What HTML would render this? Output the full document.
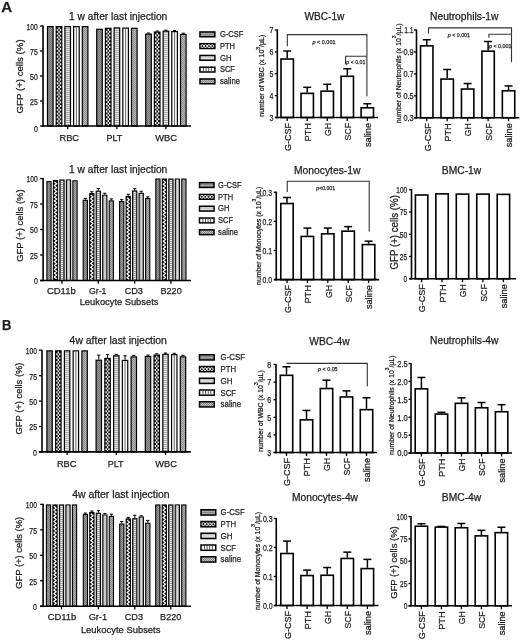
<!DOCTYPE html>
<html><head><meta charset="utf-8"><style>
html,body{margin:0;padding:0;background:#fff;}
svg{display:block;font-family:"Liberation Sans",sans-serif;will-change:transform;}
text{fill:#1e1e1e;stroke:#1e1e1e;stroke-width:0.25px;}
</style></head><body>
<svg width="520" height="641" viewBox="0 0 520 641">
<rect width="520" height="641" fill="#fff"/>
<defs>
<pattern id="pg1" width="2" height="2" patternUnits="userSpaceOnUse"><rect width="2" height="2" fill="#959595"/><rect width="1" height="1" fill="#747474"/><rect x="1" y="1" width="1" height="1" fill="#747474"/></pattern>
<pattern id="pp1" width="3" height="3" patternUnits="userSpaceOnUse"><rect width="3" height="3" fill="#111"/><rect width="1.5" height="1.5" fill="#fff"/><rect x="1.5" y="1.5" width="1.5" height="1.5" fill="#fff"/></pattern>
<pattern id="ph1" width="2" height="2" patternUnits="userSpaceOnUse"><rect width="2" height="2" fill="#e6e6e6"/><rect width="2" height="1" fill="#a8a8a8"/></pattern>
<pattern id="ps1" width="6.8" height="4" patternUnits="userSpaceOnUse"><rect width="6.8" height="4" fill="#fafafa"/></pattern>
<pattern id="pl1" width="2" height="2" patternUnits="userSpaceOnUse"><rect width="2" height="2" fill="#b8b8b8"/><rect width="1" height="1" fill="#8c8c8c"/><rect x="1" y="1" width="1" height="1" fill="#8c8c8c"/></pattern>
<pattern id="pg2" width="2" height="2" patternUnits="userSpaceOnUse"><rect width="2" height="2" fill="#9a9a9a"/><rect width="1" height="1" fill="#777"/><rect x="1" y="1" width="1" height="1" fill="#777"/></pattern>
<pattern id="pp2" width="3" height="3" patternUnits="userSpaceOnUse"><rect width="3" height="3" fill="#111"/><rect width="1.5" height="1.5" fill="#fff"/><rect x="1.5" y="1.5" width="1.5" height="1.5" fill="#fff"/></pattern>
<pattern id="ph2" width="2" height="2" patternUnits="userSpaceOnUse"><rect width="2" height="2" fill="#dcdcdc"/><rect width="2" height="1" fill="#9c9c9c"/></pattern>
<pattern id="ps2" width="2" height="2" patternUnits="userSpaceOnUse"><rect width="2" height="2" fill="#c4c4c4"/></pattern>
<pattern id="pl2" width="2" height="2" patternUnits="userSpaceOnUse"><rect width="2" height="2" fill="#b0b0b0"/><rect width="1" height="1" fill="#888"/><rect x="1" y="1" width="1" height="1" fill="#888"/></pattern>
<pattern id="lg" width="2" height="2" patternUnits="userSpaceOnUse"><rect width="2" height="2" fill="#a8a8a8"/><rect width="2" height="1" fill="#868686"/></pattern>
<pattern id="lp" width="4" height="6" patternUnits="userSpaceOnUse"><rect width="4" height="6" fill="#111"/><circle cx="2" cy="3" r="1.3" fill="none" stroke="#fff" stroke-width="0.8"/></pattern>
<pattern id="lh" width="2" height="2" patternUnits="userSpaceOnUse"><rect width="2" height="2" fill="#e8e8e8"/><rect width="2" height="1" fill="#a0a0a0"/></pattern>
<pattern id="ls" width="2.5" height="6" patternUnits="userSpaceOnUse"><rect width="2.5" height="6" fill="#fff"/><rect width="0.9" height="6" fill="#222"/></pattern>
<pattern id="ll" width="2" height="2" patternUnits="userSpaceOnUse"><rect width="2" height="2" fill="#bcbcbc"/><rect width="1" height="1" fill="#888"/><rect x="1" y="1" width="1" height="1" fill="#888"/></pattern>
</defs>
<text x="1.2" y="12" font-size="14.4" textLength="10.9" lengthAdjust="spacingAndGlyphs" font-weight="bold" >A</text>
<text x="1.9" y="329.5" font-size="13.8" textLength="9.3" lengthAdjust="spacingAndGlyphs" font-weight="bold" >B</text>
<rect x="47.5" y="26.6" width="5.6" height="99.4" fill="url(#pg1)" stroke="#000" stroke-width="1.2"/>
<rect x="56.2" y="26.6" width="5.6" height="99.4" fill="#111" stroke="#000" stroke-width="1.2"/>
<line x1="57.53" y1="27.2" x2="57.53" y2="126" stroke="#fff" stroke-width="1.39" stroke-dasharray="1.9 1.9" stroke-dashoffset="1.9"/>
<line x1="59" y1="27.2" x2="59" y2="126" stroke="#fff" stroke-width="1.39" stroke-dasharray="1.9 1.9" stroke-dashoffset="0"/>
<line x1="60.47" y1="27.2" x2="60.47" y2="126" stroke="#fff" stroke-width="1.39" stroke-dasharray="1.9 1.9" stroke-dashoffset="1.9"/>
<rect x="64.9" y="26.6" width="5.6" height="99.4" fill="url(#ph1)" stroke="#000" stroke-width="1.2"/>
<rect x="73.6" y="26.6" width="5.6" height="99.4" fill="#fbfbfb" stroke="#000" stroke-width="1.2"/>
<line x1="76.4" y1="27.2" x2="76.4" y2="126" stroke="#444" stroke-width="0.8"/>
<rect x="82.3" y="26.6" width="5.6" height="99.4" fill="url(#pl1)" stroke="#000" stroke-width="1.2"/>
<rect x="96.7" y="29.3" width="5.6" height="96.7" fill="url(#pg1)" stroke="#000" stroke-width="1.2"/>
<rect x="105.4" y="28.3" width="5.6" height="97.7" fill="#111" stroke="#000" stroke-width="1.2"/>
<line x1="106.73" y1="28.9" x2="106.73" y2="126" stroke="#fff" stroke-width="1.39" stroke-dasharray="1.9 1.9" stroke-dashoffset="1.9"/>
<line x1="108.2" y1="28.9" x2="108.2" y2="126" stroke="#fff" stroke-width="1.39" stroke-dasharray="1.9 1.9" stroke-dashoffset="0"/>
<line x1="109.67" y1="28.9" x2="109.67" y2="126" stroke="#fff" stroke-width="1.39" stroke-dasharray="1.9 1.9" stroke-dashoffset="1.9"/>
<rect x="114.1" y="27.9" width="5.6" height="98.1" fill="url(#ph1)" stroke="#000" stroke-width="1.2"/>
<rect x="122.8" y="28.1" width="5.6" height="97.9" fill="#fbfbfb" stroke="#000" stroke-width="1.2"/>
<line x1="125.6" y1="28.7" x2="125.6" y2="126" stroke="#444" stroke-width="0.8"/>
<rect x="131.5" y="28.3" width="5.6" height="97.7" fill="url(#pl1)" stroke="#000" stroke-width="1.2"/>
<line x1="148.5" y1="33" x2="148.5" y2="33.5" stroke="#000" stroke-width="1"/>
<line x1="146.9" y1="33" x2="150.1" y2="33" stroke="#000" stroke-width="1"/>
<rect x="145.7" y="34.1" width="5.6" height="91.9" fill="url(#pg1)" stroke="#000" stroke-width="1.2"/>
<line x1="157.2" y1="31" x2="157.2" y2="31.5" stroke="#000" stroke-width="1"/>
<line x1="155.6" y1="31" x2="158.8" y2="31" stroke="#000" stroke-width="1"/>
<rect x="154.4" y="32.1" width="5.6" height="93.9" fill="#111" stroke="#000" stroke-width="1.2"/>
<line x1="155.73" y1="32.7" x2="155.73" y2="126" stroke="#fff" stroke-width="1.39" stroke-dasharray="1.9 1.9" stroke-dashoffset="1.9"/>
<line x1="157.2" y1="32.7" x2="157.2" y2="126" stroke="#fff" stroke-width="1.39" stroke-dasharray="1.9 1.9" stroke-dashoffset="0"/>
<line x1="158.67" y1="32.7" x2="158.67" y2="126" stroke="#fff" stroke-width="1.39" stroke-dasharray="1.9 1.9" stroke-dashoffset="1.9"/>
<line x1="165.9" y1="30.2" x2="165.9" y2="30.6" stroke="#000" stroke-width="1"/>
<line x1="164.3" y1="30.2" x2="167.5" y2="30.2" stroke="#000" stroke-width="1"/>
<rect x="163.1" y="31.2" width="5.6" height="94.8" fill="url(#ph1)" stroke="#000" stroke-width="1.2"/>
<line x1="174.6" y1="30.5" x2="174.6" y2="31" stroke="#000" stroke-width="1"/>
<line x1="173" y1="30.5" x2="176.2" y2="30.5" stroke="#000" stroke-width="1"/>
<rect x="171.8" y="31.6" width="5.6" height="94.4" fill="#fbfbfb" stroke="#000" stroke-width="1.2"/>
<line x1="174.6" y1="32.2" x2="174.6" y2="126" stroke="#444" stroke-width="0.8"/>
<line x1="183.3" y1="33.2" x2="183.3" y2="33.8" stroke="#000" stroke-width="1"/>
<line x1="181.7" y1="33.2" x2="184.9" y2="33.2" stroke="#000" stroke-width="1"/>
<rect x="180.5" y="34.4" width="5.6" height="91.6" fill="url(#pl1)" stroke="#000" stroke-width="1.2"/>
<line x1="43" y1="25.4" x2="43" y2="126.75" stroke="#000" stroke-width="1.6"/>
<line x1="42.2" y1="126" x2="191" y2="126" stroke="#000" stroke-width="1.6"/>
<line x1="40" y1="126" x2="43" y2="126" stroke="#000" stroke-width="1.3"/>
<text x="37.8" y="132.3" font-size="8.4" text-anchor="end" textLength="3.9" lengthAdjust="spacingAndGlyphs" >0</text>
<line x1="40" y1="101" x2="43" y2="101" stroke="#000" stroke-width="1.3"/>
<text x="37.8" y="104.9" font-size="8.4" text-anchor="end" textLength="7.7" lengthAdjust="spacingAndGlyphs" >25</text>
<line x1="40" y1="76" x2="43" y2="76" stroke="#000" stroke-width="1.3"/>
<text x="37.8" y="79.9" font-size="8.4" text-anchor="end" textLength="7.7" lengthAdjust="spacingAndGlyphs" >50</text>
<line x1="40" y1="51" x2="43" y2="51" stroke="#000" stroke-width="1.3"/>
<text x="37.8" y="54.9" font-size="8.4" text-anchor="end" textLength="7.7" lengthAdjust="spacingAndGlyphs" >75</text>
<line x1="40" y1="26" x2="43" y2="26" stroke="#000" stroke-width="1.3"/>
<text x="37.8" y="29.9" font-size="8.4" text-anchor="end" textLength="11.2" lengthAdjust="spacingAndGlyphs" >100</text>
<line x1="67.7" y1="126" x2="67.7" y2="129.2" stroke="#000" stroke-width="1.3"/>
<line x1="116.9" y1="126" x2="116.9" y2="129.2" stroke="#000" stroke-width="1.3"/>
<line x1="165.9" y1="126" x2="165.9" y2="129.2" stroke="#000" stroke-width="1.3"/>
<text x="69.3" y="141" font-size="9.3" text-anchor="middle" textLength="19.5" lengthAdjust="spacingAndGlyphs" >RBC</text>
<text x="114.4" y="141" font-size="9.3" text-anchor="middle" textLength="16" lengthAdjust="spacingAndGlyphs" >PLT</text>
<text x="166.2" y="141" font-size="9.3" text-anchor="middle" textLength="21.8" lengthAdjust="spacingAndGlyphs" >WBC</text>
<text transform="translate(23,76.4) rotate(-90)" x="0" y="0" font-size="9.6" text-anchor="middle" textLength="74" lengthAdjust="spacingAndGlyphs" >GFP (+) cells (%)</text>
<text x="69.1" y="19.6" font-size="10.2" textLength="98.2" lengthAdjust="spacingAndGlyphs" >1 w after last injection</text>
<rect x="199.95" y="31.95" width="14.9" height="4.8" fill="url(#lg)" stroke="#000" stroke-width="1.5"/>
<text x="219.9" y="37.1" font-size="9.4" textLength="23.4" lengthAdjust="spacingAndGlyphs" >G-CSF</text>
<rect x="199.95" y="43.7" width="14.9" height="4.8" fill="#111" stroke="#000" stroke-width="1.5"/>
<circle cx="202.3" cy="46.1" r="1.45" fill="none" stroke="#fff" stroke-width="0.9"/>
<circle cx="205.6" cy="46.1" r="1.45" fill="none" stroke="#fff" stroke-width="0.9"/>
<circle cx="208.9" cy="46.1" r="1.45" fill="none" stroke="#fff" stroke-width="0.9"/>
<circle cx="212.2" cy="46.1" r="1.45" fill="none" stroke="#fff" stroke-width="0.9"/>
<text x="219.9" y="48.85" font-size="9.4" textLength="15" lengthAdjust="spacingAndGlyphs" >PTH</text>
<rect x="199.95" y="55.45" width="14.9" height="4.8" fill="#b4b4b4" stroke="#000" stroke-width="1.5"/>
<line x1="200.7" y1="57.15" x2="214.1" y2="57.15" stroke="#f0f0f0" stroke-width="0.8"/>
<line x1="200.7" y1="58.65" x2="214.1" y2="58.65" stroke="#f0f0f0" stroke-width="0.8"/>
<text x="219.9" y="60.6" font-size="9.4" textLength="11.6" lengthAdjust="spacingAndGlyphs" >GH</text>
<rect x="199.95" y="67.2" width="14.9" height="4.8" fill="#fff" stroke="#000" stroke-width="1.5"/>
<line x1="203.38" y1="67.95" x2="203.38" y2="71.25" stroke="#222" stroke-width="0.8"/>
<line x1="206.06" y1="67.95" x2="206.06" y2="71.25" stroke="#222" stroke-width="0.8"/>
<line x1="208.74" y1="67.95" x2="208.74" y2="71.25" stroke="#222" stroke-width="0.8"/>
<line x1="211.42" y1="67.95" x2="211.42" y2="71.25" stroke="#222" stroke-width="0.8"/>
<text x="219.9" y="72.35" font-size="9.4" textLength="15" lengthAdjust="spacingAndGlyphs" >SCF</text>
<rect x="199.95" y="78.95" width="14.9" height="4.8" fill="url(#ll)" stroke="#000" stroke-width="1.5"/>
<text x="219.9" y="84.1" font-size="9.4" textLength="20" lengthAdjust="spacingAndGlyphs" >saline</text>
<rect x="46.9" y="181.6" width="4.2" height="98.9" fill="url(#pg2)" stroke="#000" stroke-width="1.1"/>
<rect x="53.4" y="180.58" width="4.2" height="99.92" fill="#111" stroke="#000" stroke-width="1.1"/>
<polyline points="54.4 181.93 56.6 183.83 54.4 185.73 56.6 187.63 54.4 189.53 56.6 191.43 54.4 193.33 56.6 195.23 54.4 197.13 56.6 199.03 54.4 200.93 56.6 202.83 54.4 204.73 56.6 206.63 54.4 208.53 56.6 210.43 54.4 212.33 56.6 214.23 54.4 216.13 56.6 218.03 54.4 219.93 56.6 221.83 54.4 223.73 56.6 225.63 54.4 227.53 56.6 229.43 54.4 231.33 56.6 233.23 54.4 235.13 56.6 237.03 54.4 238.93 56.6 240.83 54.4 242.73 56.6 244.63 54.4 246.53 56.6 248.43 54.4 250.33 56.6 252.23 54.4 254.13 56.6 256.03 54.4 257.93 56.6 259.83 54.4 261.73 56.6 263.63 54.4 265.53 56.6 267.43 54.4 269.33 56.6 271.23 54.4 273.13 56.6 275.03 54.4 276.93 56.6 278.83" fill="none" stroke="#fff" stroke-width="1.25"/>
<rect x="59.9" y="179.97" width="4.2" height="100.53" fill="#999" stroke="#000" stroke-width="1.1"/>
<line x1="62" y1="181" x2="62" y2="280.5" stroke="#fff" stroke-width="1.8" stroke-dasharray="1 1"/>
<rect x="66.4" y="179.97" width="4.2" height="100.53" fill="#b4b4b4" stroke="#000" stroke-width="1.1"/>
<line x1="68.5" y1="180.52" x2="68.5" y2="280.5" stroke="#d8d8d8" stroke-width="1.2"/>
<rect x="72.9" y="180.78" width="4.2" height="99.72" fill="url(#pl2)" stroke="#000" stroke-width="1.1"/>
<line x1="85.3" y1="198.39" x2="85.3" y2="199.72" stroke="#000" stroke-width="1"/>
<line x1="83.7" y1="198.39" x2="86.9" y2="198.39" stroke="#000" stroke-width="1"/>
<rect x="83.2" y="200.27" width="4.2" height="80.23" fill="url(#pg2)" stroke="#000" stroke-width="1.1"/>
<line x1="91.8" y1="191.76" x2="91.8" y2="193.09" stroke="#000" stroke-width="1"/>
<line x1="90.2" y1="191.76" x2="93.4" y2="191.76" stroke="#000" stroke-width="1"/>
<rect x="89.7" y="193.64" width="4.2" height="86.86" fill="#111" stroke="#000" stroke-width="1.1"/>
<polyline points="90.7 194.99 92.9 196.89 90.7 198.79 92.9 200.69 90.7 202.59 92.9 204.49 90.7 206.39 92.9 208.29 90.7 210.19 92.9 212.09 90.7 213.99 92.9 215.89 90.7 217.79 92.9 219.69 90.7 221.59 92.9 223.49 90.7 225.39 92.9 227.29 90.7 229.19 92.9 231.09 90.7 232.99 92.9 234.89 90.7 236.79 92.9 238.69 90.7 240.59 92.9 242.49 90.7 244.39 92.9 246.29 90.7 248.19 92.9 250.09 90.7 251.99 92.9 253.89 90.7 255.79 92.9 257.69 90.7 259.59 92.9 261.49 90.7 263.39 92.9 265.29 90.7 267.19 92.9 269.09 90.7 270.99 92.9 272.89 90.7 274.79 92.9 276.69 90.7 278.59 92.9 280.49" fill="none" stroke="#fff" stroke-width="1.25"/>
<line x1="98.3" y1="188.5" x2="98.3" y2="190.64" stroke="#000" stroke-width="1"/>
<line x1="96.7" y1="188.5" x2="99.9" y2="188.5" stroke="#000" stroke-width="1"/>
<rect x="96.2" y="191.19" width="4.2" height="89.31" fill="#999" stroke="#000" stroke-width="1.1"/>
<line x1="98.3" y1="192" x2="98.3" y2="280.5" stroke="#fff" stroke-width="1.8" stroke-dasharray="1 1"/>
<line x1="104.8" y1="193.29" x2="104.8" y2="194.72" stroke="#000" stroke-width="1"/>
<line x1="103.2" y1="193.29" x2="106.4" y2="193.29" stroke="#000" stroke-width="1"/>
<rect x="102.7" y="195.27" width="4.2" height="85.23" fill="#b4b4b4" stroke="#000" stroke-width="1.1"/>
<line x1="104.8" y1="195.82" x2="104.8" y2="280.5" stroke="#d8d8d8" stroke-width="1.2"/>
<line x1="111.3" y1="198.9" x2="111.3" y2="200.33" stroke="#000" stroke-width="1"/>
<line x1="109.7" y1="198.9" x2="112.9" y2="198.9" stroke="#000" stroke-width="1"/>
<rect x="109.2" y="200.88" width="4.2" height="79.62" fill="url(#pl2)" stroke="#000" stroke-width="1.1"/>
<line x1="121.7" y1="199.61" x2="121.7" y2="201.04" stroke="#000" stroke-width="1"/>
<line x1="120.1" y1="199.61" x2="123.3" y2="199.61" stroke="#000" stroke-width="1"/>
<rect x="119.6" y="201.59" width="4.2" height="78.91" fill="url(#pg2)" stroke="#000" stroke-width="1.1"/>
<line x1="128.2" y1="194.31" x2="128.2" y2="195.94" stroke="#000" stroke-width="1"/>
<line x1="126.6" y1="194.31" x2="129.8" y2="194.31" stroke="#000" stroke-width="1"/>
<rect x="126.1" y="196.49" width="4.2" height="84.01" fill="#111" stroke="#000" stroke-width="1.1"/>
<polyline points="127.1 197.84 129.3 199.74 127.1 201.64 129.3 203.54 127.1 205.44 129.3 207.34 127.1 209.24 129.3 211.14 127.1 213.04 129.3 214.94 127.1 216.84 129.3 218.74 127.1 220.64 129.3 222.54 127.1 224.44 129.3 226.34 127.1 228.24 129.3 230.14 127.1 232.04 129.3 233.94 127.1 235.84 129.3 237.74 127.1 239.64 129.3 241.54 127.1 243.44 129.3 245.34 127.1 247.24 129.3 249.14 127.1 251.04 129.3 252.94 127.1 254.84 129.3 256.74 127.1 258.64 129.3 260.54 127.1 262.44 129.3 264.34 127.1 266.24 129.3 268.14 127.1 270.04 129.3 271.94 127.1 273.84 129.3 275.74 127.1 277.64 129.3 279.54" fill="none" stroke="#fff" stroke-width="1.25"/>
<line x1="134.7" y1="188.7" x2="134.7" y2="190.43" stroke="#000" stroke-width="1"/>
<line x1="133.1" y1="188.7" x2="136.3" y2="188.7" stroke="#000" stroke-width="1"/>
<rect x="132.6" y="190.98" width="4.2" height="89.52" fill="#999" stroke="#000" stroke-width="1.1"/>
<line x1="134.7" y1="192" x2="134.7" y2="280.5" stroke="#fff" stroke-width="1.8" stroke-dasharray="1 1"/>
<line x1="141.2" y1="191.25" x2="141.2" y2="192.78" stroke="#000" stroke-width="1"/>
<line x1="139.6" y1="191.25" x2="142.8" y2="191.25" stroke="#000" stroke-width="1"/>
<rect x="139.1" y="193.33" width="4.2" height="87.17" fill="#b4b4b4" stroke="#000" stroke-width="1.1"/>
<line x1="141.2" y1="193.88" x2="141.2" y2="280.5" stroke="#d8d8d8" stroke-width="1.2"/>
<line x1="147.7" y1="196.86" x2="147.7" y2="197.98" stroke="#000" stroke-width="1"/>
<line x1="146.1" y1="196.86" x2="149.3" y2="196.86" stroke="#000" stroke-width="1"/>
<rect x="145.6" y="198.53" width="4.2" height="81.97" fill="url(#pl2)" stroke="#000" stroke-width="1.1"/>
<rect x="155.8" y="179.05" width="4.2" height="101.45" fill="url(#pg2)" stroke="#000" stroke-width="1.1"/>
<rect x="162.3" y="179.05" width="4.2" height="101.45" fill="#111" stroke="#000" stroke-width="1.1"/>
<polyline points="163.3 180.4 165.5 182.3 163.3 184.2 165.5 186.1 163.3 188 165.5 189.9 163.3 191.8 165.5 193.7 163.3 195.6 165.5 197.5 163.3 199.4 165.5 201.3 163.3 203.2 165.5 205.1 163.3 207 165.5 208.9 163.3 210.8 165.5 212.7 163.3 214.6 165.5 216.5 163.3 218.4 165.5 220.3 163.3 222.2 165.5 224.1 163.3 226 165.5 227.9 163.3 229.8 165.5 231.7 163.3 233.6 165.5 235.5 163.3 237.4 165.5 239.3 163.3 241.2 165.5 243.1 163.3 245 165.5 246.9 163.3 248.8 165.5 250.7 163.3 252.6 165.5 254.5 163.3 256.4 165.5 258.3 163.3 260.2 165.5 262.1 163.3 264 165.5 265.9 163.3 267.8 165.5 269.7 163.3 271.6 165.5 273.5 163.3 275.4 165.5 277.3 163.3 279.2" fill="none" stroke="#fff" stroke-width="1.25"/>
<rect x="168.8" y="179.05" width="4.2" height="101.45" fill="#999" stroke="#000" stroke-width="1.1"/>
<line x1="170.9" y1="180" x2="170.9" y2="280.5" stroke="#fff" stroke-width="1.8" stroke-dasharray="1 1"/>
<rect x="175.3" y="179.05" width="4.2" height="101.45" fill="#b4b4b4" stroke="#000" stroke-width="1.1"/>
<line x1="177.4" y1="179.6" x2="177.4" y2="280.5" stroke="#d8d8d8" stroke-width="1.2"/>
<rect x="181.8" y="179.05" width="4.2" height="101.45" fill="url(#pl2)" stroke="#000" stroke-width="1.1"/>
<line x1="43.1" y1="177.9" x2="43.1" y2="281.25" stroke="#000" stroke-width="1.6"/>
<line x1="40" y1="280.5" x2="191" y2="280.5" stroke="#000" stroke-width="1.6"/>
<line x1="40.1" y1="280.5" x2="43.1" y2="280.5" stroke="#000" stroke-width="1.3"/>
<text x="37.8" y="284.4" font-size="8.4" text-anchor="end" textLength="3.9" lengthAdjust="spacingAndGlyphs" >0</text>
<line x1="40.1" y1="255" x2="43.1" y2="255" stroke="#000" stroke-width="1.3"/>
<text x="37.8" y="258.9" font-size="8.4" text-anchor="end" textLength="7.7" lengthAdjust="spacingAndGlyphs" >25</text>
<line x1="40.1" y1="229.5" x2="43.1" y2="229.5" stroke="#000" stroke-width="1.3"/>
<text x="37.8" y="233.4" font-size="8.4" text-anchor="end" textLength="7.7" lengthAdjust="spacingAndGlyphs" >50</text>
<line x1="40.1" y1="204" x2="43.1" y2="204" stroke="#000" stroke-width="1.3"/>
<text x="37.8" y="207.9" font-size="8.4" text-anchor="end" textLength="7.7" lengthAdjust="spacingAndGlyphs" >75</text>
<line x1="40.1" y1="178.5" x2="43.1" y2="178.5" stroke="#000" stroke-width="1.3"/>
<text x="37.8" y="182.4" font-size="8.4" text-anchor="end" textLength="11.2" lengthAdjust="spacingAndGlyphs" >100</text>
<line x1="62" y1="280.5" x2="62" y2="283.7" stroke="#000" stroke-width="1.3"/>
<line x1="98.3" y1="280.5" x2="98.3" y2="283.7" stroke="#000" stroke-width="1.3"/>
<line x1="134.7" y1="280.5" x2="134.7" y2="283.7" stroke="#000" stroke-width="1.3"/>
<line x1="170.9" y1="280.5" x2="170.9" y2="283.7" stroke="#000" stroke-width="1.3"/>
<text x="61.3" y="294.3" font-size="9.3" text-anchor="middle" textLength="28.8" lengthAdjust="spacingAndGlyphs" >CD11b</text>
<text x="97.7" y="294.3" font-size="9.3" text-anchor="middle" textLength="17.6" lengthAdjust="spacingAndGlyphs" >Gr-1</text>
<text x="133.8" y="294.3" font-size="9.3" text-anchor="middle" textLength="18.2" lengthAdjust="spacingAndGlyphs" >CD3</text>
<text x="171.1" y="294.3" font-size="9.3" text-anchor="middle" textLength="21.3" lengthAdjust="spacingAndGlyphs" >B220</text>
<text transform="translate(23.3,225.6) rotate(-90)" x="0" y="0" font-size="9.6" text-anchor="middle" textLength="72.5" lengthAdjust="spacingAndGlyphs" >GFP (+) cells (%)</text>
<text x="69.1" y="173.2" font-size="10.2" textLength="98.2" lengthAdjust="spacingAndGlyphs" >1 w after last injection</text>
<rect x="199.5" y="182.65" width="14.5" height="4.8" fill="url(#lg)" stroke="#000" stroke-width="1.5"/>
<text x="218.1" y="187.8" font-size="9.4" textLength="23.4" lengthAdjust="spacingAndGlyphs" >G-CSF</text>
<rect x="199.5" y="194.45" width="14.5" height="4.8" fill="#111" stroke="#000" stroke-width="1.5"/>
<circle cx="201.85" cy="196.85" r="1.45" fill="none" stroke="#fff" stroke-width="0.9"/>
<circle cx="205.15" cy="196.85" r="1.45" fill="none" stroke="#fff" stroke-width="0.9"/>
<circle cx="208.45" cy="196.85" r="1.45" fill="none" stroke="#fff" stroke-width="0.9"/>
<circle cx="211.75" cy="196.85" r="1.45" fill="none" stroke="#fff" stroke-width="0.9"/>
<text x="218.1" y="199.6" font-size="9.4" textLength="15" lengthAdjust="spacingAndGlyphs" >PTH</text>
<rect x="199.5" y="206.25" width="14.5" height="4.8" fill="#b4b4b4" stroke="#000" stroke-width="1.5"/>
<line x1="200.25" y1="207.95" x2="213.25" y2="207.95" stroke="#f0f0f0" stroke-width="0.8"/>
<line x1="200.25" y1="209.45" x2="213.25" y2="209.45" stroke="#f0f0f0" stroke-width="0.8"/>
<text x="218.1" y="211.4" font-size="9.4" textLength="11.6" lengthAdjust="spacingAndGlyphs" >GH</text>
<rect x="199.5" y="218.05" width="14.5" height="4.8" fill="#fff" stroke="#000" stroke-width="1.5"/>
<line x1="202.85" y1="218.8" x2="202.85" y2="222.1" stroke="#222" stroke-width="0.8"/>
<line x1="205.45" y1="218.8" x2="205.45" y2="222.1" stroke="#222" stroke-width="0.8"/>
<line x1="208.05" y1="218.8" x2="208.05" y2="222.1" stroke="#222" stroke-width="0.8"/>
<line x1="210.65" y1="218.8" x2="210.65" y2="222.1" stroke="#222" stroke-width="0.8"/>
<text x="218.1" y="223.2" font-size="9.4" textLength="15" lengthAdjust="spacingAndGlyphs" >SCF</text>
<rect x="199.5" y="229.85" width="14.5" height="4.8" fill="url(#ll)" stroke="#000" stroke-width="1.5"/>
<text x="218.1" y="235" font-size="9.4" textLength="20" lengthAdjust="spacingAndGlyphs" >saline</text>
<text x="79.7" y="305.4" font-size="9.3" textLength="78.7" lengthAdjust="spacingAndGlyphs" >Leukocyte Subsets</text>
<rect x="46.9" y="350.85" width="5.4" height="101.05" fill="url(#pg1)" stroke="#000" stroke-width="1.2"/>
<rect x="55.65" y="350.85" width="5.4" height="101.05" fill="#111" stroke="#000" stroke-width="1.2"/>
<line x1="56.95" y1="351.45" x2="56.95" y2="451.9" stroke="#fff" stroke-width="1.33" stroke-dasharray="1.9 1.9" stroke-dashoffset="1.9"/>
<line x1="58.35" y1="351.45" x2="58.35" y2="451.9" stroke="#fff" stroke-width="1.33" stroke-dasharray="1.9 1.9" stroke-dashoffset="0"/>
<line x1="59.75" y1="351.45" x2="59.75" y2="451.9" stroke="#fff" stroke-width="1.33" stroke-dasharray="1.9 1.9" stroke-dashoffset="1.9"/>
<rect x="64.4" y="350.85" width="5.4" height="101.05" fill="url(#ph1)" stroke="#000" stroke-width="1.2"/>
<rect x="73.15" y="350.85" width="5.4" height="101.05" fill="#fbfbfb" stroke="#000" stroke-width="1.2"/>
<line x1="75.85" y1="351.45" x2="75.85" y2="451.9" stroke="#444" stroke-width="0.8"/>
<rect x="81.9" y="350.85" width="5.4" height="101.05" fill="url(#pl1)" stroke="#000" stroke-width="1.2"/>
<line x1="98.8" y1="355.13" x2="98.8" y2="359.6" stroke="#000" stroke-width="1"/>
<line x1="97.2" y1="355.13" x2="100.4" y2="355.13" stroke="#000" stroke-width="1"/>
<rect x="96.1" y="360.2" width="5.4" height="91.7" fill="url(#pg1)" stroke="#000" stroke-width="1.2"/>
<line x1="107.55" y1="354.62" x2="107.55" y2="357.77" stroke="#000" stroke-width="1"/>
<line x1="105.95" y1="354.62" x2="109.15" y2="354.62" stroke="#000" stroke-width="1"/>
<rect x="104.85" y="358.37" width="5.4" height="93.53" fill="#111" stroke="#000" stroke-width="1.2"/>
<line x1="106.15" y1="358.97" x2="106.15" y2="451.9" stroke="#fff" stroke-width="1.33" stroke-dasharray="1.9 1.9" stroke-dashoffset="1.9"/>
<line x1="107.55" y1="358.97" x2="107.55" y2="451.9" stroke="#fff" stroke-width="1.33" stroke-dasharray="1.9 1.9" stroke-dashoffset="0"/>
<line x1="108.95" y1="358.97" x2="108.95" y2="451.9" stroke="#fff" stroke-width="1.33" stroke-dasharray="1.9 1.9" stroke-dashoffset="1.9"/>
<line x1="116.3" y1="354.32" x2="116.3" y2="355.23" stroke="#000" stroke-width="1"/>
<line x1="114.7" y1="354.32" x2="117.9" y2="354.32" stroke="#000" stroke-width="1"/>
<rect x="113.6" y="355.83" width="5.4" height="96.07" fill="url(#ph1)" stroke="#000" stroke-width="1.2"/>
<line x1="125.05" y1="355.84" x2="125.05" y2="359.81" stroke="#000" stroke-width="1"/>
<line x1="123.45" y1="355.84" x2="126.65" y2="355.84" stroke="#000" stroke-width="1"/>
<rect x="122.35" y="360.41" width="5.4" height="91.49" fill="#fbfbfb" stroke="#000" stroke-width="1.2"/>
<line x1="125.05" y1="361.01" x2="125.05" y2="451.9" stroke="#444" stroke-width="0.8"/>
<line x1="133.8" y1="355.33" x2="133.8" y2="356.25" stroke="#000" stroke-width="1"/>
<line x1="132.2" y1="355.33" x2="135.4" y2="355.33" stroke="#000" stroke-width="1"/>
<rect x="131.1" y="356.85" width="5.4" height="95.05" fill="url(#pl1)" stroke="#000" stroke-width="1.2"/>
<line x1="148" y1="355.03" x2="148" y2="355.84" stroke="#000" stroke-width="1"/>
<line x1="146.4" y1="355.03" x2="149.6" y2="355.03" stroke="#000" stroke-width="1"/>
<rect x="145.3" y="356.44" width="5.4" height="95.46" fill="url(#pg1)" stroke="#000" stroke-width="1.2"/>
<line x1="156.75" y1="353.81" x2="156.75" y2="354.52" stroke="#000" stroke-width="1"/>
<line x1="155.15" y1="353.81" x2="158.35" y2="353.81" stroke="#000" stroke-width="1"/>
<rect x="154.05" y="355.12" width="5.4" height="96.78" fill="#111" stroke="#000" stroke-width="1.2"/>
<line x1="155.35" y1="355.72" x2="155.35" y2="451.9" stroke="#fff" stroke-width="1.33" stroke-dasharray="1.9 1.9" stroke-dashoffset="1.9"/>
<line x1="156.75" y1="355.72" x2="156.75" y2="451.9" stroke="#fff" stroke-width="1.33" stroke-dasharray="1.9 1.9" stroke-dashoffset="0"/>
<line x1="158.15" y1="355.72" x2="158.15" y2="451.9" stroke="#fff" stroke-width="1.33" stroke-dasharray="1.9 1.9" stroke-dashoffset="1.9"/>
<line x1="165.5" y1="352.99" x2="165.5" y2="353.71" stroke="#000" stroke-width="1"/>
<line x1="163.9" y1="352.99" x2="167.1" y2="352.99" stroke="#000" stroke-width="1"/>
<rect x="162.8" y="354.31" width="5.4" height="97.59" fill="url(#ph1)" stroke="#000" stroke-width="1.2"/>
<line x1="174.25" y1="353.3" x2="174.25" y2="354.11" stroke="#000" stroke-width="1"/>
<line x1="172.65" y1="353.3" x2="175.85" y2="353.3" stroke="#000" stroke-width="1"/>
<rect x="171.55" y="354.71" width="5.4" height="97.19" fill="#fbfbfb" stroke="#000" stroke-width="1.2"/>
<line x1="174.25" y1="355.31" x2="174.25" y2="451.9" stroke="#444" stroke-width="0.8"/>
<line x1="183" y1="355.33" x2="183" y2="356.25" stroke="#000" stroke-width="1"/>
<line x1="181.4" y1="355.33" x2="184.6" y2="355.33" stroke="#000" stroke-width="1"/>
<rect x="180.3" y="356.85" width="5.4" height="95.05" fill="url(#pl1)" stroke="#000" stroke-width="1.2"/>
<line x1="42" y1="349.65" x2="42" y2="452.65" stroke="#000" stroke-width="1.6"/>
<line x1="38.75" y1="451.9" x2="190.8" y2="451.9" stroke="#000" stroke-width="1.6"/>
<line x1="39" y1="451.9" x2="42" y2="451.9" stroke="#000" stroke-width="1.3"/>
<text x="37" y="455.8" font-size="8.4" text-anchor="end" textLength="3.9" lengthAdjust="spacingAndGlyphs" >0</text>
<line x1="39" y1="426.49" x2="42" y2="426.49" stroke="#000" stroke-width="1.3"/>
<text x="37" y="430.39" font-size="8.4" text-anchor="end" textLength="7.7" lengthAdjust="spacingAndGlyphs" >25</text>
<line x1="39" y1="401.07" x2="42" y2="401.07" stroke="#000" stroke-width="1.3"/>
<text x="37" y="404.97" font-size="8.4" text-anchor="end" textLength="7.7" lengthAdjust="spacingAndGlyphs" >50</text>
<line x1="39" y1="375.66" x2="42" y2="375.66" stroke="#000" stroke-width="1.3"/>
<text x="37" y="379.56" font-size="8.4" text-anchor="end" textLength="7.7" lengthAdjust="spacingAndGlyphs" >75</text>
<line x1="39" y1="350.25" x2="42" y2="350.25" stroke="#000" stroke-width="1.3"/>
<text x="37" y="354.15" font-size="8.4" text-anchor="end" textLength="11.2" lengthAdjust="spacingAndGlyphs" >100</text>
<line x1="67.1" y1="451.9" x2="67.1" y2="455.1" stroke="#000" stroke-width="1.3"/>
<line x1="116.3" y1="451.9" x2="116.3" y2="455.1" stroke="#000" stroke-width="1.3"/>
<line x1="165.5" y1="451.9" x2="165.5" y2="455.1" stroke="#000" stroke-width="1.3"/>
<text x="66.6" y="467" font-size="9.3" text-anchor="middle" textLength="19.4" lengthAdjust="spacingAndGlyphs" >RBC</text>
<text x="115.7" y="467" font-size="9.3" text-anchor="middle" textLength="16" lengthAdjust="spacingAndGlyphs" >PLT</text>
<text x="166.1" y="467" font-size="9.3" text-anchor="middle" textLength="21.5" lengthAdjust="spacingAndGlyphs" >WBC</text>
<text transform="translate(22,398.5) rotate(-90)" x="0" y="0" font-size="9.6" text-anchor="middle" textLength="72" lengthAdjust="spacingAndGlyphs" >GFP (+) cells (%)</text>
<text x="69.6" y="343.75" font-size="10.2" textLength="97.3" lengthAdjust="spacingAndGlyphs" >4w after last injection</text>
<rect x="199.5" y="354.75" width="14.75" height="5.2" fill="url(#lg)" stroke="#000" stroke-width="1.5"/>
<text x="220.6" y="360.3" font-size="9.4" textLength="24.4" lengthAdjust="spacingAndGlyphs" >G-CSF</text>
<rect x="199.5" y="366.5" width="14.75" height="5.2" fill="#111" stroke="#000" stroke-width="1.5"/>
<circle cx="201.85" cy="369.1" r="1.45" fill="none" stroke="#fff" stroke-width="0.9"/>
<circle cx="205.15" cy="369.1" r="1.45" fill="none" stroke="#fff" stroke-width="0.9"/>
<circle cx="208.45" cy="369.1" r="1.45" fill="none" stroke="#fff" stroke-width="0.9"/>
<circle cx="211.75" cy="369.1" r="1.45" fill="none" stroke="#fff" stroke-width="0.9"/>
<text x="220.6" y="372.05" font-size="9.4" textLength="15.5" lengthAdjust="spacingAndGlyphs" >PTH</text>
<rect x="199.5" y="378.25" width="14.75" height="5.2" fill="#b4b4b4" stroke="#000" stroke-width="1.5"/>
<line x1="200.25" y1="380.15" x2="213.5" y2="380.15" stroke="#f0f0f0" stroke-width="0.8"/>
<line x1="200.25" y1="381.65" x2="213.5" y2="381.65" stroke="#f0f0f0" stroke-width="0.8"/>
<text x="220.6" y="383.8" font-size="9.4" textLength="12" lengthAdjust="spacingAndGlyphs" >GH</text>
<rect x="199.5" y="390" width="14.75" height="5.2" fill="#fff" stroke="#000" stroke-width="1.5"/>
<line x1="202.9" y1="390.75" x2="202.9" y2="394.45" stroke="#222" stroke-width="0.8"/>
<line x1="205.55" y1="390.75" x2="205.55" y2="394.45" stroke="#222" stroke-width="0.8"/>
<line x1="208.2" y1="390.75" x2="208.2" y2="394.45" stroke="#222" stroke-width="0.8"/>
<line x1="210.85" y1="390.75" x2="210.85" y2="394.45" stroke="#222" stroke-width="0.8"/>
<text x="220.6" y="395.55" font-size="9.4" textLength="15.5" lengthAdjust="spacingAndGlyphs" >SCF</text>
<rect x="199.5" y="401.75" width="14.75" height="5.2" fill="url(#ll)" stroke="#000" stroke-width="1.5"/>
<text x="220.6" y="407.3" font-size="9.4" textLength="20.5" lengthAdjust="spacingAndGlyphs" >saline</text>
<rect x="46.4" y="504.95" width="4.2" height="101.25" fill="url(#pg2)" stroke="#000" stroke-width="1.1"/>
<rect x="52.9" y="504.95" width="4.2" height="101.25" fill="#111" stroke="#000" stroke-width="1.1"/>
<polyline points="53.9 506.3 56.1 508.2 53.9 510.1 56.1 512 53.9 513.9 56.1 515.8 53.9 517.7 56.1 519.6 53.9 521.5 56.1 523.4 53.9 525.3 56.1 527.2 53.9 529.1 56.1 531 53.9 532.9 56.1 534.8 53.9 536.7 56.1 538.6 53.9 540.5 56.1 542.4 53.9 544.3 56.1 546.2 53.9 548.1 56.1 550 53.9 551.9 56.1 553.8 53.9 555.7 56.1 557.6 53.9 559.5 56.1 561.4 53.9 563.3 56.1 565.2 53.9 567.1 56.1 569 53.9 570.9 56.1 572.8 53.9 574.7 56.1 576.6 53.9 578.5 56.1 580.4 53.9 582.3 56.1 584.2 53.9 586.1 56.1 588 53.9 589.9 56.1 591.8 53.9 593.7 56.1 595.6 53.9 597.5 56.1 599.4 53.9 601.3 56.1 603.2 53.9 605.1" fill="none" stroke="#fff" stroke-width="1.25"/>
<rect x="59.4" y="504.95" width="4.2" height="101.25" fill="#999" stroke="#000" stroke-width="1.1"/>
<line x1="61.5" y1="506" x2="61.5" y2="606.2" stroke="#fff" stroke-width="1.8" stroke-dasharray="1 1"/>
<rect x="65.9" y="504.95" width="4.2" height="101.25" fill="#b4b4b4" stroke="#000" stroke-width="1.1"/>
<line x1="68" y1="505.5" x2="68" y2="606.2" stroke="#d8d8d8" stroke-width="1.2"/>
<rect x="72.4" y="504.95" width="4.2" height="101.25" fill="url(#pl2)" stroke="#000" stroke-width="1.1"/>
<line x1="85.4" y1="513.05" x2="85.4" y2="513.87" stroke="#000" stroke-width="1"/>
<line x1="83.8" y1="513.05" x2="87" y2="513.05" stroke="#000" stroke-width="1"/>
<rect x="83.3" y="514.42" width="4.2" height="91.78" fill="url(#pg2)" stroke="#000" stroke-width="1.1"/>
<line x1="91.9" y1="511.02" x2="91.9" y2="511.93" stroke="#000" stroke-width="1"/>
<line x1="90.3" y1="511.02" x2="93.5" y2="511.02" stroke="#000" stroke-width="1"/>
<rect x="89.8" y="512.48" width="4.2" height="93.72" fill="#111" stroke="#000" stroke-width="1.1"/>
<polyline points="90.8 513.83 93 515.73 90.8 517.63 93 519.53 90.8 521.43 93 523.33 90.8 525.23 93 527.13 90.8 529.03 93 530.93 90.8 532.83 93 534.73 90.8 536.63 93 538.53 90.8 540.43 93 542.33 90.8 544.23 93 546.13 90.8 548.03 93 549.93 90.8 551.83 93 553.73 90.8 555.63 93 557.53 90.8 559.43 93 561.33 90.8 563.23 93 565.13 90.8 567.03 93 568.93 90.8 570.83 93 572.73 90.8 574.63 93 576.53 90.8 578.43 93 580.33 90.8 582.23 93 584.13 90.8 586.03 93 587.93 90.8 589.83 93 591.73 90.8 593.63 93 595.53 90.8 597.43 93 599.33 90.8 601.23 93 603.13 90.8 605.03" fill="none" stroke="#fff" stroke-width="1.25"/>
<line x1="98.4" y1="510.71" x2="98.4" y2="512.75" stroke="#000" stroke-width="1"/>
<line x1="96.8" y1="510.71" x2="100" y2="510.71" stroke="#000" stroke-width="1"/>
<rect x="96.3" y="513.3" width="4.2" height="92.9" fill="#999" stroke="#000" stroke-width="1.1"/>
<line x1="98.4" y1="514" x2="98.4" y2="606.2" stroke="#fff" stroke-width="1.8" stroke-dasharray="1 1"/>
<line x1="104.9" y1="513.56" x2="104.9" y2="514.48" stroke="#000" stroke-width="1"/>
<line x1="103.3" y1="513.56" x2="106.5" y2="513.56" stroke="#000" stroke-width="1"/>
<rect x="102.8" y="515.03" width="4.2" height="91.17" fill="#b4b4b4" stroke="#000" stroke-width="1.1"/>
<line x1="104.9" y1="515.58" x2="104.9" y2="606.2" stroke="#d8d8d8" stroke-width="1.2"/>
<line x1="111.4" y1="514.17" x2="111.4" y2="515.8" stroke="#000" stroke-width="1"/>
<line x1="109.8" y1="514.17" x2="113" y2="514.17" stroke="#000" stroke-width="1"/>
<rect x="109.3" y="516.35" width="4.2" height="89.85" fill="url(#pl2)" stroke="#000" stroke-width="1.1"/>
<line x1="121.8" y1="521.5" x2="121.8" y2="523.54" stroke="#000" stroke-width="1"/>
<line x1="120.2" y1="521.5" x2="123.4" y2="521.5" stroke="#000" stroke-width="1"/>
<rect x="119.7" y="524.09" width="4.2" height="82.11" fill="url(#pg2)" stroke="#000" stroke-width="1.1"/>
<line x1="128.3" y1="517.33" x2="128.3" y2="518.35" stroke="#000" stroke-width="1"/>
<line x1="126.7" y1="517.33" x2="129.9" y2="517.33" stroke="#000" stroke-width="1"/>
<rect x="126.2" y="518.9" width="4.2" height="87.3" fill="#111" stroke="#000" stroke-width="1.1"/>
<polyline points="127.2 520.25 129.4 522.15 127.2 524.05 129.4 525.95 127.2 527.85 129.4 529.75 127.2 531.65 129.4 533.55 127.2 535.45 129.4 537.35 127.2 539.25 129.4 541.15 127.2 543.05 129.4 544.95 127.2 546.85 129.4 548.75 127.2 550.65 129.4 552.55 127.2 554.45 129.4 556.35 127.2 558.25 129.4 560.15 127.2 562.05 129.4 563.95 127.2 565.85 129.4 567.75 127.2 569.65 129.4 571.55 127.2 573.45 129.4 575.35 127.2 577.25 129.4 579.15 127.2 581.05 129.4 582.95 127.2 584.85 129.4 586.75 127.2 588.65 129.4 590.55 127.2 592.45 129.4 594.35 127.2 596.25 129.4 598.15 127.2 600.05 129.4 601.95 127.2 603.85 129.4 605.75" fill="none" stroke="#fff" stroke-width="1.25"/>
<line x1="134.8" y1="515.29" x2="134.8" y2="518.14" stroke="#000" stroke-width="1"/>
<line x1="133.2" y1="515.29" x2="136.4" y2="515.29" stroke="#000" stroke-width="1"/>
<rect x="132.7" y="518.69" width="4.2" height="87.51" fill="#999" stroke="#000" stroke-width="1.1"/>
<line x1="134.8" y1="520" x2="134.8" y2="606.2" stroke="#fff" stroke-width="1.8" stroke-dasharray="1 1"/>
<line x1="141.3" y1="515.8" x2="141.3" y2="516.51" stroke="#000" stroke-width="1"/>
<line x1="139.7" y1="515.8" x2="142.9" y2="515.8" stroke="#000" stroke-width="1"/>
<rect x="139.2" y="517.06" width="4.2" height="89.14" fill="#b4b4b4" stroke="#000" stroke-width="1.1"/>
<line x1="141.3" y1="517.61" x2="141.3" y2="606.2" stroke="#d8d8d8" stroke-width="1.2"/>
<line x1="147.8" y1="520.38" x2="147.8" y2="522.72" stroke="#000" stroke-width="1"/>
<line x1="146.2" y1="520.38" x2="149.4" y2="520.38" stroke="#000" stroke-width="1"/>
<rect x="145.7" y="523.27" width="4.2" height="82.93" fill="url(#pl2)" stroke="#000" stroke-width="1.1"/>
<rect x="155.7" y="504.95" width="4.2" height="101.25" fill="url(#pg2)" stroke="#000" stroke-width="1.1"/>
<rect x="162.2" y="504.95" width="4.2" height="101.25" fill="#111" stroke="#000" stroke-width="1.1"/>
<polyline points="163.2 506.3 165.4 508.2 163.2 510.1 165.4 512 163.2 513.9 165.4 515.8 163.2 517.7 165.4 519.6 163.2 521.5 165.4 523.4 163.2 525.3 165.4 527.2 163.2 529.1 165.4 531 163.2 532.9 165.4 534.8 163.2 536.7 165.4 538.6 163.2 540.5 165.4 542.4 163.2 544.3 165.4 546.2 163.2 548.1 165.4 550 163.2 551.9 165.4 553.8 163.2 555.7 165.4 557.6 163.2 559.5 165.4 561.4 163.2 563.3 165.4 565.2 163.2 567.1 165.4 569 163.2 570.9 165.4 572.8 163.2 574.7 165.4 576.6 163.2 578.5 165.4 580.4 163.2 582.3 165.4 584.2 163.2 586.1 165.4 588 163.2 589.9 165.4 591.8 163.2 593.7 165.4 595.6 163.2 597.5 165.4 599.4 163.2 601.3 165.4 603.2 163.2 605.1" fill="none" stroke="#fff" stroke-width="1.25"/>
<rect x="168.7" y="504.95" width="4.2" height="101.25" fill="#999" stroke="#000" stroke-width="1.1"/>
<line x1="170.8" y1="506" x2="170.8" y2="606.2" stroke="#fff" stroke-width="1.8" stroke-dasharray="1 1"/>
<rect x="175.2" y="504.95" width="4.2" height="101.25" fill="#b4b4b4" stroke="#000" stroke-width="1.1"/>
<line x1="177.3" y1="505.5" x2="177.3" y2="606.2" stroke="#d8d8d8" stroke-width="1.2"/>
<rect x="181.7" y="504.95" width="4.2" height="101.25" fill="url(#pl2)" stroke="#000" stroke-width="1.1"/>
<line x1="43.1" y1="503.8" x2="43.1" y2="606.95" stroke="#000" stroke-width="1.6"/>
<line x1="40" y1="606.2" x2="191" y2="606.2" stroke="#000" stroke-width="1.6"/>
<line x1="40.1" y1="606.2" x2="43.1" y2="606.2" stroke="#000" stroke-width="1.3"/>
<text x="37" y="610.1" font-size="8.4" text-anchor="end" textLength="3.9" lengthAdjust="spacingAndGlyphs" >0</text>
<line x1="40.1" y1="580.75" x2="43.1" y2="580.75" stroke="#000" stroke-width="1.3"/>
<text x="37" y="584.65" font-size="8.4" text-anchor="end" textLength="7.7" lengthAdjust="spacingAndGlyphs" >25</text>
<line x1="40.1" y1="555.3" x2="43.1" y2="555.3" stroke="#000" stroke-width="1.3"/>
<text x="37" y="559.2" font-size="8.4" text-anchor="end" textLength="7.7" lengthAdjust="spacingAndGlyphs" >50</text>
<line x1="40.1" y1="529.85" x2="43.1" y2="529.85" stroke="#000" stroke-width="1.3"/>
<text x="37" y="533.75" font-size="8.4" text-anchor="end" textLength="7.7" lengthAdjust="spacingAndGlyphs" >75</text>
<line x1="40.1" y1="504.4" x2="43.1" y2="504.4" stroke="#000" stroke-width="1.3"/>
<text x="37" y="508.3" font-size="8.4" text-anchor="end" textLength="11.2" lengthAdjust="spacingAndGlyphs" >100</text>
<line x1="61.5" y1="606.2" x2="61.5" y2="609.4" stroke="#000" stroke-width="1.3"/>
<line x1="98.4" y1="606.2" x2="98.4" y2="609.4" stroke="#000" stroke-width="1.3"/>
<line x1="134.8" y1="606.2" x2="134.8" y2="609.4" stroke="#000" stroke-width="1.3"/>
<line x1="170.8" y1="606.2" x2="170.8" y2="609.4" stroke="#000" stroke-width="1.3"/>
<text x="62" y="619.8" font-size="9.3" text-anchor="middle" textLength="28.6" lengthAdjust="spacingAndGlyphs" >CD11b</text>
<text x="97.9" y="619.8" font-size="9.3" text-anchor="middle" textLength="18.5" lengthAdjust="spacingAndGlyphs" >Gr-1</text>
<text x="133.9" y="619.8" font-size="9.3" text-anchor="middle" textLength="18.5" lengthAdjust="spacingAndGlyphs" >CD3</text>
<text x="170.7" y="619.8" font-size="9.3" text-anchor="middle" textLength="21.3" lengthAdjust="spacingAndGlyphs" >B220</text>
<text transform="translate(22,552.8) rotate(-90)" x="0" y="0" font-size="9.6" text-anchor="middle" textLength="72" lengthAdjust="spacingAndGlyphs" >GFP (+) cells (%)</text>
<text x="72.2" y="497.9" font-size="10.2" textLength="97.5" lengthAdjust="spacingAndGlyphs" >4w after last injection</text>
<rect x="201" y="509.75" width="14.75" height="5.3" fill="url(#lg)" stroke="#000" stroke-width="1.5"/>
<text x="220.6" y="515.4" font-size="9.4" textLength="24.2" lengthAdjust="spacingAndGlyphs" >G-CSF</text>
<rect x="201" y="521.5" width="14.75" height="5.3" fill="#111" stroke="#000" stroke-width="1.5"/>
<circle cx="203.35" cy="524.15" r="1.45" fill="none" stroke="#fff" stroke-width="0.9"/>
<circle cx="206.65" cy="524.15" r="1.45" fill="none" stroke="#fff" stroke-width="0.9"/>
<circle cx="209.95" cy="524.15" r="1.45" fill="none" stroke="#fff" stroke-width="0.9"/>
<circle cx="213.25" cy="524.15" r="1.45" fill="none" stroke="#fff" stroke-width="0.9"/>
<text x="220.6" y="527.15" font-size="9.4" textLength="15.5" lengthAdjust="spacingAndGlyphs" >PTH</text>
<rect x="201" y="533.25" width="14.75" height="5.3" fill="#b4b4b4" stroke="#000" stroke-width="1.5"/>
<line x1="201.75" y1="535.2" x2="215" y2="535.2" stroke="#f0f0f0" stroke-width="0.8"/>
<line x1="201.75" y1="536.7" x2="215" y2="536.7" stroke="#f0f0f0" stroke-width="0.8"/>
<text x="220.6" y="538.9" font-size="9.4" textLength="12" lengthAdjust="spacingAndGlyphs" >GH</text>
<rect x="201" y="545" width="14.75" height="5.3" fill="#fff" stroke="#000" stroke-width="1.5"/>
<line x1="204.4" y1="545.75" x2="204.4" y2="549.55" stroke="#222" stroke-width="0.8"/>
<line x1="207.05" y1="545.75" x2="207.05" y2="549.55" stroke="#222" stroke-width="0.8"/>
<line x1="209.7" y1="545.75" x2="209.7" y2="549.55" stroke="#222" stroke-width="0.8"/>
<line x1="212.35" y1="545.75" x2="212.35" y2="549.55" stroke="#222" stroke-width="0.8"/>
<text x="220.6" y="550.65" font-size="9.4" textLength="15.5" lengthAdjust="spacingAndGlyphs" >SCF</text>
<rect x="201" y="556.75" width="14.75" height="5.3" fill="url(#ll)" stroke="#000" stroke-width="1.5"/>
<text x="220.6" y="562.4" font-size="9.4" textLength="20.5" lengthAdjust="spacingAndGlyphs" >saline</text>
<text x="80.9" y="633.2" font-size="9.3" textLength="79.5" lengthAdjust="spacingAndGlyphs" >Leukocyte Subsets</text>
<line x1="287.2" y1="51" x2="287.2" y2="58.22" stroke="#000" stroke-width="1.5"/>
<line x1="283.2" y1="51" x2="291.2" y2="51" stroke="#000" stroke-width="1.5"/>
<rect x="281" y="59.02" width="12.4" height="58.48" fill="#fff" stroke="#000" stroke-width="1.6"/>
<line x1="307.23" y1="87.31" x2="307.23" y2="92.56" stroke="#000" stroke-width="1.5"/>
<line x1="303.23" y1="87.31" x2="311.23" y2="87.31" stroke="#000" stroke-width="1.5"/>
<rect x="301.03" y="93.36" width="12.4" height="24.14" fill="#fff" stroke="#000" stroke-width="1.6"/>
<line x1="327.26" y1="84.25" x2="327.26" y2="90.38" stroke="#000" stroke-width="1.5"/>
<line x1="323.26" y1="84.25" x2="331.26" y2="84.25" stroke="#000" stroke-width="1.5"/>
<rect x="321.06" y="91.17" width="12.4" height="26.32" fill="#fff" stroke="#000" stroke-width="1.6"/>
<line x1="347.29" y1="68.72" x2="347.29" y2="75.5" stroke="#000" stroke-width="1.5"/>
<line x1="343.29" y1="68.72" x2="351.29" y2="68.72" stroke="#000" stroke-width="1.5"/>
<rect x="341.09" y="76.3" width="12.4" height="41.2" fill="#fff" stroke="#000" stroke-width="1.6"/>
<line x1="367.32" y1="103.72" x2="367.32" y2="107" stroke="#000" stroke-width="1.5"/>
<line x1="363.32" y1="103.72" x2="371.32" y2="103.72" stroke="#000" stroke-width="1.5"/>
<rect x="361.12" y="107.8" width="12.4" height="9.7" fill="#fff" stroke="#000" stroke-width="1.6"/>
<line x1="277.3" y1="29.4" x2="277.3" y2="118.25" stroke="#000" stroke-width="1.6"/>
<line x1="275" y1="117.5" x2="378" y2="117.5" stroke="#000" stroke-width="1.6"/>
<line x1="274.8" y1="117.5" x2="277.3" y2="117.5" stroke="#000" stroke-width="1.3"/>
<text x="273.35" y="120.8" font-size="8.4" text-anchor="end" textLength="3.9" lengthAdjust="spacingAndGlyphs" >3</text>
<line x1="274.8" y1="95.62" x2="277.3" y2="95.62" stroke="#000" stroke-width="1.3"/>
<text x="273.35" y="98.92" font-size="8.4" text-anchor="end" textLength="3.9" lengthAdjust="spacingAndGlyphs" >4</text>
<line x1="274.8" y1="73.75" x2="277.3" y2="73.75" stroke="#000" stroke-width="1.3"/>
<text x="273.35" y="77.05" font-size="8.4" text-anchor="end" textLength="3.9" lengthAdjust="spacingAndGlyphs" >5</text>
<line x1="274.8" y1="51.88" x2="277.3" y2="51.88" stroke="#000" stroke-width="1.3"/>
<text x="273.35" y="55.17" font-size="8.4" text-anchor="end" textLength="3.9" lengthAdjust="spacingAndGlyphs" >6</text>
<line x1="274.8" y1="30" x2="277.3" y2="30" stroke="#000" stroke-width="1.3"/>
<text x="273.35" y="33.3" font-size="8.4" text-anchor="end" textLength="3.9" lengthAdjust="spacingAndGlyphs" >7</text>
<line x1="287.2" y1="117.5" x2="287.2" y2="121" stroke="#000" stroke-width="1.3"/>
<text transform="translate(290.95,123) rotate(-90)" x="0" y="0" font-size="9.8" text-anchor="end" textLength="28" lengthAdjust="spacingAndGlyphs" >G-CSF</text>
<line x1="307.23" y1="117.5" x2="307.23" y2="121" stroke="#000" stroke-width="1.3"/>
<text transform="translate(310.98,123) rotate(-90)" x="0" y="0" font-size="9.8" text-anchor="end" textLength="18.5" lengthAdjust="spacingAndGlyphs" >PTH</text>
<line x1="327.26" y1="117.5" x2="327.26" y2="121" stroke="#000" stroke-width="1.3"/>
<text transform="translate(331.01,123) rotate(-90)" x="0" y="0" font-size="9.8" text-anchor="end" textLength="13" lengthAdjust="spacingAndGlyphs" >GH</text>
<line x1="347.29" y1="117.5" x2="347.29" y2="121" stroke="#000" stroke-width="1.3"/>
<text transform="translate(351.04,123) rotate(-90)" x="0" y="0" font-size="9.8" text-anchor="end" textLength="17.5" lengthAdjust="spacingAndGlyphs" >SCF</text>
<line x1="367.32" y1="117.5" x2="367.32" y2="121" stroke="#000" stroke-width="1.3"/>
<text transform="translate(371.07,123) rotate(-90)" x="0" y="0" font-size="9.8" text-anchor="end" textLength="24" lengthAdjust="spacingAndGlyphs" >saline</text>
<text x="304.4" y="20" font-size="10.2" textLength="40" lengthAdjust="spacingAndGlyphs" >WBC-1w</text>
<text transform="translate(264.1,75.75) rotate(-90)" x="0" y="0" font-size="7" text-anchor="middle" textLength="82" lengthAdjust="spacingAndGlyphs">number of WBC (x 10<tspan font-size="5.04" dy="-4.6">3</tspan><tspan dy="4.6">/µL)</tspan></text>
<path d="M287.3 46.2 L287.3 34.6 L366.9 34.6 L366.9 96.3" stroke="#333" stroke-width="1.1" fill="none"/>
<path d="M345.6 64.4 L345.6 56.3 L366.9 56.3" stroke="#333" stroke-width="1.1" fill="none"/>
<text x="312.5" y="44.3" font-size="6" textLength="23" lengthAdjust="spacingAndGlyphs" fill="#333"><tspan font-style="italic">p</tspan> &lt; 0.001</text>
<text x="346.3" y="63.6" font-size="6" textLength="19" lengthAdjust="spacingAndGlyphs" fill="#333"><tspan font-style="italic">p</tspan> &lt; 0.01</text>
<line x1="426.75" y1="39.76" x2="426.75" y2="45.03" stroke="#000" stroke-width="1.5"/>
<line x1="422.75" y1="39.76" x2="430.75" y2="39.76" stroke="#000" stroke-width="1.5"/>
<rect x="420.55" y="45.83" width="12.4" height="71.92" fill="#fff" stroke="#000" stroke-width="1.6"/>
<line x1="447.2" y1="69.49" x2="447.2" y2="78.26" stroke="#000" stroke-width="1.5"/>
<line x1="443.2" y1="69.49" x2="451.2" y2="69.49" stroke="#000" stroke-width="1.5"/>
<rect x="441" y="79.06" width="12.4" height="38.69" fill="#fff" stroke="#000" stroke-width="1.6"/>
<line x1="467.65" y1="83.53" x2="467.65" y2="88.24" stroke="#000" stroke-width="1.5"/>
<line x1="463.65" y1="83.53" x2="471.65" y2="83.53" stroke="#000" stroke-width="1.5"/>
<rect x="461.45" y="89.04" width="12.4" height="28.71" fill="#fff" stroke="#000" stroke-width="1.6"/>
<line x1="488.1" y1="41.52" x2="488.1" y2="50.4" stroke="#000" stroke-width="1.5"/>
<line x1="484.1" y1="41.52" x2="492.1" y2="41.52" stroke="#000" stroke-width="1.5"/>
<rect x="481.9" y="51.2" width="12.4" height="66.55" fill="#fff" stroke="#000" stroke-width="1.6"/>
<line x1="508.55" y1="85.94" x2="508.55" y2="90" stroke="#000" stroke-width="1.5"/>
<line x1="504.55" y1="85.94" x2="512.55" y2="85.94" stroke="#000" stroke-width="1.5"/>
<rect x="502.35" y="90.8" width="12.4" height="26.95" fill="#fff" stroke="#000" stroke-width="1.6"/>
<line x1="416.5" y1="29.4" x2="416.5" y2="118.5" stroke="#000" stroke-width="1.6"/>
<line x1="414" y1="117.75" x2="519.3" y2="117.75" stroke="#000" stroke-width="1.6"/>
<line x1="414" y1="117.75" x2="416.5" y2="117.75" stroke="#000" stroke-width="1.3"/>
<text x="413.6" y="121.05" font-size="8.4" text-anchor="end" textLength="10.2" lengthAdjust="spacingAndGlyphs" >0.3</text>
<line x1="414" y1="95.81" x2="416.5" y2="95.81" stroke="#000" stroke-width="1.3"/>
<text x="413.6" y="99.11" font-size="8.4" text-anchor="end" textLength="10.2" lengthAdjust="spacingAndGlyphs" >0.5</text>
<line x1="414" y1="73.88" x2="416.5" y2="73.88" stroke="#000" stroke-width="1.3"/>
<text x="413.6" y="77.17" font-size="8.4" text-anchor="end" textLength="10.2" lengthAdjust="spacingAndGlyphs" >0.7</text>
<line x1="414" y1="51.94" x2="416.5" y2="51.94" stroke="#000" stroke-width="1.3"/>
<text x="413.6" y="55.24" font-size="8.4" text-anchor="end" textLength="10.2" lengthAdjust="spacingAndGlyphs" >0.9</text>
<line x1="414" y1="30" x2="416.5" y2="30" stroke="#000" stroke-width="1.3"/>
<text x="413.6" y="33.3" font-size="8.4" text-anchor="end" textLength="9.4" lengthAdjust="spacingAndGlyphs" >1.1</text>
<line x1="426.75" y1="117.75" x2="426.75" y2="121.25" stroke="#000" stroke-width="1.3"/>
<text transform="translate(430.5,123.25) rotate(-90)" x="0" y="0" font-size="9.8" text-anchor="end" textLength="28" lengthAdjust="spacingAndGlyphs" >G-CSF</text>
<line x1="447.2" y1="117.75" x2="447.2" y2="121.25" stroke="#000" stroke-width="1.3"/>
<text transform="translate(450.95,123.25) rotate(-90)" x="0" y="0" font-size="9.8" text-anchor="end" textLength="18.5" lengthAdjust="spacingAndGlyphs" >PTH</text>
<line x1="467.65" y1="117.75" x2="467.65" y2="121.25" stroke="#000" stroke-width="1.3"/>
<text transform="translate(471.4,123.25) rotate(-90)" x="0" y="0" font-size="9.8" text-anchor="end" textLength="13" lengthAdjust="spacingAndGlyphs" >GH</text>
<line x1="488.1" y1="117.75" x2="488.1" y2="121.25" stroke="#000" stroke-width="1.3"/>
<text transform="translate(491.85,123.25) rotate(-90)" x="0" y="0" font-size="9.8" text-anchor="end" textLength="17.5" lengthAdjust="spacingAndGlyphs" >SCF</text>
<line x1="508.55" y1="117.75" x2="508.55" y2="121.25" stroke="#000" stroke-width="1.3"/>
<text transform="translate(512.3,123.25) rotate(-90)" x="0" y="0" font-size="9.8" text-anchor="end" textLength="24" lengthAdjust="spacingAndGlyphs" >saline</text>
<text x="430" y="20" font-size="10.2" textLength="68.5" lengthAdjust="spacingAndGlyphs" >Neutrophils-1w</text>
<text transform="translate(400.8,73.3) rotate(-90)" x="0" y="0" font-size="7" text-anchor="middle" textLength="99.8" lengthAdjust="spacingAndGlyphs">number of Neutrophils (x 10<tspan font-size="5.04" dy="-4.6">3</tspan><tspan dy="4.6">/µL)</tspan></text>
<path d="M428.5 33.5 L428.5 27.9 L511.5 27.9 L511.5 62.3" stroke="#333" stroke-width="1.1" fill="none"/>
<path d="M488.9 37.7 L488.9 34.2 L511.5 34.2" stroke="#333" stroke-width="1.1" fill="none"/>
<text x="447.7" y="36.8" font-size="6" textLength="22.3" lengthAdjust="spacingAndGlyphs" fill="#333"><tspan font-style="italic">p</tspan> &lt; 0.001</text>
<text x="489" y="48" font-size="6" textLength="22.5" lengthAdjust="spacingAndGlyphs" fill="#333"><tspan font-style="italic">p</tspan> &lt; 0.001</text>
<line x1="287" y1="197.49" x2="287" y2="202.73" stroke="#000" stroke-width="1.5"/>
<line x1="283" y1="197.49" x2="291" y2="197.49" stroke="#000" stroke-width="1.5"/>
<rect x="280.8" y="203.53" width="12.4" height="76.07" fill="#fff" stroke="#000" stroke-width="1.6"/>
<line x1="307.4" y1="228.06" x2="307.4" y2="235.63" stroke="#000" stroke-width="1.5"/>
<line x1="303.4" y1="228.06" x2="311.4" y2="228.06" stroke="#000" stroke-width="1.5"/>
<rect x="301.2" y="236.43" width="12.4" height="43.17" fill="#fff" stroke="#000" stroke-width="1.6"/>
<line x1="327.8" y1="228.06" x2="327.8" y2="233.01" stroke="#000" stroke-width="1.5"/>
<line x1="323.8" y1="228.06" x2="331.8" y2="228.06" stroke="#000" stroke-width="1.5"/>
<rect x="321.6" y="233.81" width="12.4" height="45.79" fill="#fff" stroke="#000" stroke-width="1.6"/>
<line x1="348.2" y1="226.61" x2="348.2" y2="230.39" stroke="#000" stroke-width="1.5"/>
<line x1="344.2" y1="226.61" x2="352.2" y2="226.61" stroke="#000" stroke-width="1.5"/>
<rect x="342" y="231.19" width="12.4" height="48.41" fill="#fff" stroke="#000" stroke-width="1.6"/>
<line x1="368.6" y1="241.17" x2="368.6" y2="243.79" stroke="#000" stroke-width="1.5"/>
<line x1="364.6" y1="241.17" x2="372.6" y2="241.17" stroke="#000" stroke-width="1.5"/>
<rect x="362.4" y="244.59" width="12.4" height="35.01" fill="#fff" stroke="#000" stroke-width="1.6"/>
<line x1="276.25" y1="191.65" x2="276.25" y2="280.35" stroke="#000" stroke-width="1.6"/>
<line x1="274" y1="279.6" x2="379.2" y2="279.6" stroke="#000" stroke-width="1.6"/>
<line x1="273.75" y1="279.6" x2="276.25" y2="279.6" stroke="#000" stroke-width="1.3"/>
<text x="272.1" y="282.9" font-size="8.4" text-anchor="end" textLength="9.6" lengthAdjust="spacingAndGlyphs" >0.0</text>
<line x1="273.75" y1="250.48" x2="276.25" y2="250.48" stroke="#000" stroke-width="1.3"/>
<text x="272.1" y="253.78" font-size="8.4" text-anchor="end" textLength="9.6" lengthAdjust="spacingAndGlyphs" >0.1</text>
<line x1="273.75" y1="221.37" x2="276.25" y2="221.37" stroke="#000" stroke-width="1.3"/>
<text x="272.1" y="224.67" font-size="8.4" text-anchor="end" textLength="9.6" lengthAdjust="spacingAndGlyphs" >0.2</text>
<line x1="273.75" y1="192.25" x2="276.25" y2="192.25" stroke="#000" stroke-width="1.3"/>
<text x="272.1" y="195.55" font-size="8.4" text-anchor="end" textLength="9.6" lengthAdjust="spacingAndGlyphs" >0.3</text>
<line x1="287" y1="279.6" x2="287" y2="283.1" stroke="#000" stroke-width="1.3"/>
<text transform="translate(290.75,285.1) rotate(-90)" x="0" y="0" font-size="9.8" text-anchor="end" textLength="28" lengthAdjust="spacingAndGlyphs" >G-CSF</text>
<line x1="307.4" y1="279.6" x2="307.4" y2="283.1" stroke="#000" stroke-width="1.3"/>
<text transform="translate(311.15,285.1) rotate(-90)" x="0" y="0" font-size="9.8" text-anchor="end" textLength="18.5" lengthAdjust="spacingAndGlyphs" >PTH</text>
<line x1="327.8" y1="279.6" x2="327.8" y2="283.1" stroke="#000" stroke-width="1.3"/>
<text transform="translate(331.55,285.1) rotate(-90)" x="0" y="0" font-size="9.8" text-anchor="end" textLength="13" lengthAdjust="spacingAndGlyphs" >GH</text>
<line x1="348.2" y1="279.6" x2="348.2" y2="283.1" stroke="#000" stroke-width="1.3"/>
<text transform="translate(351.95,285.1) rotate(-90)" x="0" y="0" font-size="9.8" text-anchor="end" textLength="17.5" lengthAdjust="spacingAndGlyphs" >SCF</text>
<line x1="368.6" y1="279.6" x2="368.6" y2="283.1" stroke="#000" stroke-width="1.3"/>
<text transform="translate(372.35,285.1) rotate(-90)" x="0" y="0" font-size="9.8" text-anchor="end" textLength="24" lengthAdjust="spacingAndGlyphs" >saline</text>
<text x="294" y="174" font-size="10.2" textLength="66.5" lengthAdjust="spacingAndGlyphs" >Monocytes-1w</text>
<text transform="translate(260.6,235.8) rotate(-90)" x="0" y="0" font-size="7" text-anchor="middle" textLength="98.2" lengthAdjust="spacingAndGlyphs">number of Monocytes (x 10<tspan font-size="5.04" dy="-4.6">3</tspan><tspan dy="4.6">/µL)</tspan></text>
<path d="M287.25 191.9 L287.25 181.3 L369.2 181.3 L369.2 231.5" stroke="#333" stroke-width="1.1" fill="none"/>
<text x="316.3" y="190.2" font-size="6" textLength="18.8" lengthAdjust="spacingAndGlyphs" fill="#333"><tspan font-style="italic">p</tspan>&lt;0.001</text>
<rect x="415.4" y="195" width="12.4" height="83.75" fill="#fff" stroke="#000" stroke-width="1.6"/>
<rect x="435.85" y="193.84" width="12.4" height="84.91" fill="#fff" stroke="#000" stroke-width="1.6"/>
<rect x="456.3" y="194.11" width="12.4" height="84.64" fill="#fff" stroke="#000" stroke-width="1.6"/>
<rect x="476.75" y="194.11" width="12.4" height="84.64" fill="#fff" stroke="#000" stroke-width="1.6"/>
<rect x="497.2" y="194.38" width="12.4" height="84.37" fill="#fff" stroke="#000" stroke-width="1.6"/>
<line x1="411.5" y1="189.15" x2="411.5" y2="279.5" stroke="#000" stroke-width="1.6"/>
<line x1="409.4" y1="278.75" x2="516" y2="278.75" stroke="#000" stroke-width="1.6"/>
<line x1="409" y1="278.75" x2="411.5" y2="278.75" stroke="#000" stroke-width="1.3"/>
<text x="407.1" y="282.05" font-size="8.4" text-anchor="end" textLength="3.7" lengthAdjust="spacingAndGlyphs" >0</text>
<line x1="409" y1="256.5" x2="411.5" y2="256.5" stroke="#000" stroke-width="1.3"/>
<text x="407.1" y="259.8" font-size="8.4" text-anchor="end" textLength="7.4" lengthAdjust="spacingAndGlyphs" >25</text>
<line x1="409" y1="234.25" x2="411.5" y2="234.25" stroke="#000" stroke-width="1.3"/>
<text x="407.1" y="237.55" font-size="8.4" text-anchor="end" textLength="7.4" lengthAdjust="spacingAndGlyphs" >50</text>
<line x1="409" y1="212" x2="411.5" y2="212" stroke="#000" stroke-width="1.3"/>
<text x="407.1" y="215.3" font-size="8.4" text-anchor="end" textLength="7.4" lengthAdjust="spacingAndGlyphs" >75</text>
<line x1="409" y1="189.75" x2="411.5" y2="189.75" stroke="#000" stroke-width="1.3"/>
<text x="407.1" y="193.05" font-size="8.4" text-anchor="end" textLength="10.8" lengthAdjust="spacingAndGlyphs" >100</text>
<line x1="421.6" y1="278.75" x2="421.6" y2="282.25" stroke="#000" stroke-width="1.3"/>
<text transform="translate(425.35,284.25) rotate(-90)" x="0" y="0" font-size="9.8" text-anchor="end" textLength="28" lengthAdjust="spacingAndGlyphs" >G-CSF</text>
<line x1="442.05" y1="278.75" x2="442.05" y2="282.25" stroke="#000" stroke-width="1.3"/>
<text transform="translate(445.8,284.25) rotate(-90)" x="0" y="0" font-size="9.8" text-anchor="end" textLength="18.5" lengthAdjust="spacingAndGlyphs" >PTH</text>
<line x1="462.5" y1="278.75" x2="462.5" y2="282.25" stroke="#000" stroke-width="1.3"/>
<text transform="translate(466.25,284.25) rotate(-90)" x="0" y="0" font-size="9.8" text-anchor="end" textLength="13" lengthAdjust="spacingAndGlyphs" >GH</text>
<line x1="482.95" y1="278.75" x2="482.95" y2="282.25" stroke="#000" stroke-width="1.3"/>
<text transform="translate(486.7,284.25) rotate(-90)" x="0" y="0" font-size="9.8" text-anchor="end" textLength="17.5" lengthAdjust="spacingAndGlyphs" >SCF</text>
<line x1="503.4" y1="278.75" x2="503.4" y2="282.25" stroke="#000" stroke-width="1.3"/>
<text transform="translate(507.15,284.25) rotate(-90)" x="0" y="0" font-size="9.8" text-anchor="end" textLength="24" lengthAdjust="spacingAndGlyphs" >saline</text>
<text x="441.8" y="174.4" font-size="10.2" textLength="39.4" lengthAdjust="spacingAndGlyphs" >BMC-1w</text>
<text transform="translate(398.2,232.3) rotate(-90)" x="0" y="0" font-size="10" text-anchor="middle" textLength="74.5" lengthAdjust="spacingAndGlyphs">GFP (+) cells (%)</text>
<line x1="286.5" y1="366.79" x2="286.5" y2="374.53" stroke="#000" stroke-width="1.5"/>
<line x1="282.5" y1="366.79" x2="290.5" y2="366.79" stroke="#000" stroke-width="1.5"/>
<rect x="280.3" y="375.33" width="12.4" height="77.17" fill="#fff" stroke="#000" stroke-width="1.6"/>
<line x1="306.5" y1="410.44" x2="306.5" y2="419.06" stroke="#000" stroke-width="1.5"/>
<line x1="302.5" y1="410.44" x2="310.5" y2="410.44" stroke="#000" stroke-width="1.5"/>
<rect x="300.3" y="419.86" width="12.4" height="32.64" fill="#fff" stroke="#000" stroke-width="1.6"/>
<line x1="326.5" y1="380.16" x2="326.5" y2="387.73" stroke="#000" stroke-width="1.5"/>
<line x1="322.5" y1="380.16" x2="330.5" y2="380.16" stroke="#000" stroke-width="1.5"/>
<rect x="320.3" y="388.53" width="12.4" height="63.97" fill="#fff" stroke="#000" stroke-width="1.6"/>
<line x1="346.5" y1="390.9" x2="346.5" y2="396.18" stroke="#000" stroke-width="1.5"/>
<line x1="342.5" y1="390.9" x2="350.5" y2="390.9" stroke="#000" stroke-width="1.5"/>
<rect x="340.3" y="396.98" width="12.4" height="55.52" fill="#fff" stroke="#000" stroke-width="1.6"/>
<line x1="366.5" y1="397.76" x2="366.5" y2="408.85" stroke="#000" stroke-width="1.5"/>
<line x1="362.5" y1="397.76" x2="370.5" y2="397.76" stroke="#000" stroke-width="1.5"/>
<rect x="360.3" y="409.65" width="12.4" height="42.85" fill="#fff" stroke="#000" stroke-width="1.6"/>
<line x1="276" y1="363.9" x2="276" y2="453.25" stroke="#000" stroke-width="1.6"/>
<line x1="273.75" y1="452.5" x2="377" y2="452.5" stroke="#000" stroke-width="1.6"/>
<line x1="273.5" y1="452.5" x2="276" y2="452.5" stroke="#000" stroke-width="1.3"/>
<text x="271.2" y="455.8" font-size="8.4" text-anchor="end" textLength="3.9" lengthAdjust="spacingAndGlyphs" >3</text>
<line x1="273.5" y1="434.9" x2="276" y2="434.9" stroke="#000" stroke-width="1.3"/>
<text x="271.2" y="438.2" font-size="8.4" text-anchor="end" textLength="3.9" lengthAdjust="spacingAndGlyphs" >4</text>
<line x1="273.5" y1="417.3" x2="276" y2="417.3" stroke="#000" stroke-width="1.3"/>
<text x="271.2" y="420.6" font-size="8.4" text-anchor="end" textLength="3.9" lengthAdjust="spacingAndGlyphs" >5</text>
<line x1="273.5" y1="399.7" x2="276" y2="399.7" stroke="#000" stroke-width="1.3"/>
<text x="271.2" y="403" font-size="8.4" text-anchor="end" textLength="3.9" lengthAdjust="spacingAndGlyphs" >6</text>
<line x1="273.5" y1="382.1" x2="276" y2="382.1" stroke="#000" stroke-width="1.3"/>
<text x="271.2" y="385.4" font-size="8.4" text-anchor="end" textLength="3.9" lengthAdjust="spacingAndGlyphs" >7</text>
<line x1="273.5" y1="364.5" x2="276" y2="364.5" stroke="#000" stroke-width="1.3"/>
<text x="271.2" y="367.8" font-size="8.4" text-anchor="end" textLength="3.9" lengthAdjust="spacingAndGlyphs" >8</text>
<line x1="286.5" y1="452.5" x2="286.5" y2="456" stroke="#000" stroke-width="1.3"/>
<text transform="translate(290.25,458) rotate(-90)" x="0" y="0" font-size="9.8" text-anchor="end" textLength="28" lengthAdjust="spacingAndGlyphs" >G-CSF</text>
<line x1="306.5" y1="452.5" x2="306.5" y2="456" stroke="#000" stroke-width="1.3"/>
<text transform="translate(310.25,458) rotate(-90)" x="0" y="0" font-size="9.8" text-anchor="end" textLength="18.5" lengthAdjust="spacingAndGlyphs" >PTH</text>
<line x1="326.5" y1="452.5" x2="326.5" y2="456" stroke="#000" stroke-width="1.3"/>
<text transform="translate(330.25,458) rotate(-90)" x="0" y="0" font-size="9.8" text-anchor="end" textLength="13" lengthAdjust="spacingAndGlyphs" >GH</text>
<line x1="346.5" y1="452.5" x2="346.5" y2="456" stroke="#000" stroke-width="1.3"/>
<text transform="translate(350.25,458) rotate(-90)" x="0" y="0" font-size="9.8" text-anchor="end" textLength="17.5" lengthAdjust="spacingAndGlyphs" >SCF</text>
<line x1="366.5" y1="452.5" x2="366.5" y2="456" stroke="#000" stroke-width="1.3"/>
<text transform="translate(370.25,458) rotate(-90)" x="0" y="0" font-size="9.8" text-anchor="end" textLength="24" lengthAdjust="spacingAndGlyphs" >saline</text>
<text x="309.3" y="345" font-size="10.2" textLength="40.3" lengthAdjust="spacingAndGlyphs" >WBC-4w</text>
<text transform="translate(262.7,411) rotate(-90)" x="0" y="0" font-size="7" text-anchor="middle" textLength="81.5" lengthAdjust="spacingAndGlyphs">number of WBC (x 10<tspan font-size="5.04" dy="-4.6">3</tspan><tspan dy="4.6">/µL)</tspan></text>
<path d="M286.4 363.4 L367.3 363.4 L367.3 386.2" stroke="#333" stroke-width="1.1" fill="none"/>
<text x="318.1" y="370.6" font-size="6" textLength="19.5" lengthAdjust="spacingAndGlyphs" fill="#333"><tspan font-style="italic">p</tspan> &lt; 0.05</text>
<line x1="421.4" y1="377.46" x2="421.4" y2="388.02" stroke="#000" stroke-width="1.5"/>
<line x1="417.4" y1="377.46" x2="425.4" y2="377.46" stroke="#000" stroke-width="1.5"/>
<rect x="415.2" y="388.82" width="12.4" height="64.18" fill="#fff" stroke="#000" stroke-width="1.6"/>
<line x1="441.45" y1="412.3" x2="441.45" y2="413.26" stroke="#000" stroke-width="1.5"/>
<line x1="437.45" y1="412.3" x2="445.45" y2="412.3" stroke="#000" stroke-width="1.5"/>
<rect x="435.25" y="414.06" width="12.4" height="38.94" fill="#fff" stroke="#000" stroke-width="1.6"/>
<line x1="461.5" y1="397.87" x2="461.5" y2="402.52" stroke="#000" stroke-width="1.5"/>
<line x1="457.5" y1="397.87" x2="465.5" y2="397.87" stroke="#000" stroke-width="1.5"/>
<rect x="455.3" y="403.32" width="12.4" height="49.68" fill="#fff" stroke="#000" stroke-width="1.6"/>
<line x1="481.55" y1="402.52" x2="481.55" y2="407" stroke="#000" stroke-width="1.5"/>
<line x1="477.55" y1="402.52" x2="485.55" y2="402.52" stroke="#000" stroke-width="1.5"/>
<rect x="475.35" y="407.8" width="12.4" height="45.2" fill="#fff" stroke="#000" stroke-width="1.6"/>
<line x1="501.6" y1="404.67" x2="501.6" y2="410.94" stroke="#000" stroke-width="1.5"/>
<line x1="497.6" y1="404.67" x2="505.6" y2="404.67" stroke="#000" stroke-width="1.5"/>
<rect x="495.4" y="411.74" width="12.4" height="41.27" fill="#fff" stroke="#000" stroke-width="1.6"/>
<line x1="411" y1="362.9" x2="411" y2="453.75" stroke="#000" stroke-width="1.6"/>
<line x1="408.5" y1="453" x2="512" y2="453" stroke="#000" stroke-width="1.6"/>
<line x1="408.5" y1="453" x2="411" y2="453" stroke="#000" stroke-width="1.3"/>
<text x="407.8" y="456.3" font-size="8.4" text-anchor="end" textLength="10.5" lengthAdjust="spacingAndGlyphs" >0.0</text>
<line x1="408.5" y1="435.1" x2="411" y2="435.1" stroke="#000" stroke-width="1.3"/>
<text x="407.8" y="438.4" font-size="8.4" text-anchor="end" textLength="10.5" lengthAdjust="spacingAndGlyphs" >0.5</text>
<line x1="408.5" y1="417.2" x2="411" y2="417.2" stroke="#000" stroke-width="1.3"/>
<text x="407.8" y="420.5" font-size="8.4" text-anchor="end" textLength="10.5" lengthAdjust="spacingAndGlyphs" >1.0</text>
<line x1="408.5" y1="399.3" x2="411" y2="399.3" stroke="#000" stroke-width="1.3"/>
<text x="407.8" y="402.6" font-size="8.4" text-anchor="end" textLength="10.5" lengthAdjust="spacingAndGlyphs" >1.5</text>
<line x1="408.5" y1="381.4" x2="411" y2="381.4" stroke="#000" stroke-width="1.3"/>
<text x="407.8" y="384.7" font-size="8.4" text-anchor="end" textLength="10.5" lengthAdjust="spacingAndGlyphs" >2.0</text>
<line x1="408.5" y1="363.5" x2="411" y2="363.5" stroke="#000" stroke-width="1.3"/>
<text x="407.8" y="366.8" font-size="8.4" text-anchor="end" textLength="10.5" lengthAdjust="spacingAndGlyphs" >2.5</text>
<line x1="421.4" y1="453" x2="421.4" y2="456.5" stroke="#000" stroke-width="1.3"/>
<text transform="translate(425.15,458.5) rotate(-90)" x="0" y="0" font-size="9.8" text-anchor="end" textLength="28" lengthAdjust="spacingAndGlyphs" >G-CSF</text>
<line x1="441.45" y1="453" x2="441.45" y2="456.5" stroke="#000" stroke-width="1.3"/>
<text transform="translate(445.2,458.5) rotate(-90)" x="0" y="0" font-size="9.8" text-anchor="end" textLength="18.5" lengthAdjust="spacingAndGlyphs" >PTH</text>
<line x1="461.5" y1="453" x2="461.5" y2="456.5" stroke="#000" stroke-width="1.3"/>
<text transform="translate(465.25,458.5) rotate(-90)" x="0" y="0" font-size="9.8" text-anchor="end" textLength="13" lengthAdjust="spacingAndGlyphs" >GH</text>
<line x1="481.55" y1="453" x2="481.55" y2="456.5" stroke="#000" stroke-width="1.3"/>
<text transform="translate(485.3,458.5) rotate(-90)" x="0" y="0" font-size="9.8" text-anchor="end" textLength="17.5" lengthAdjust="spacingAndGlyphs" >SCF</text>
<line x1="501.6" y1="453" x2="501.6" y2="456.5" stroke="#000" stroke-width="1.3"/>
<text transform="translate(505.35,458.5) rotate(-90)" x="0" y="0" font-size="9.8" text-anchor="end" textLength="24" lengthAdjust="spacingAndGlyphs" >saline</text>
<text x="430" y="344.2" font-size="10.2" textLength="68.5" lengthAdjust="spacingAndGlyphs" >Neutrophils-4w</text>
<text transform="translate(394,405.2) rotate(-90)" x="0" y="0" font-size="7" text-anchor="middle" textLength="99.5" lengthAdjust="spacingAndGlyphs">number of Neutrophils (x 10<tspan font-size="5.04" dy="-4.6">3</tspan><tspan dy="4.6">/µL)</tspan></text>
<line x1="287" y1="541.12" x2="287" y2="552.72" stroke="#000" stroke-width="1.5"/>
<line x1="283" y1="541.12" x2="291" y2="541.12" stroke="#000" stroke-width="1.5"/>
<rect x="280.8" y="553.52" width="12.4" height="51.98" fill="#fff" stroke="#000" stroke-width="1.6"/>
<line x1="307.1" y1="570.12" x2="307.1" y2="574.76" stroke="#000" stroke-width="1.5"/>
<line x1="303.1" y1="570.12" x2="311.1" y2="570.12" stroke="#000" stroke-width="1.5"/>
<rect x="300.9" y="575.56" width="12.4" height="29.94" fill="#fff" stroke="#000" stroke-width="1.6"/>
<line x1="327.2" y1="567.51" x2="327.2" y2="574.47" stroke="#000" stroke-width="1.5"/>
<line x1="323.2" y1="567.51" x2="331.2" y2="567.51" stroke="#000" stroke-width="1.5"/>
<rect x="321" y="575.27" width="12.4" height="30.23" fill="#fff" stroke="#000" stroke-width="1.6"/>
<line x1="347.3" y1="552.14" x2="347.3" y2="557.65" stroke="#000" stroke-width="1.5"/>
<line x1="343.3" y1="552.14" x2="351.3" y2="552.14" stroke="#000" stroke-width="1.5"/>
<rect x="341.1" y="558.45" width="12.4" height="47.05" fill="#fff" stroke="#000" stroke-width="1.6"/>
<line x1="367.4" y1="559.39" x2="367.4" y2="567.8" stroke="#000" stroke-width="1.5"/>
<line x1="363.4" y1="559.39" x2="371.4" y2="559.39" stroke="#000" stroke-width="1.5"/>
<rect x="361.2" y="568.6" width="12.4" height="36.9" fill="#fff" stroke="#000" stroke-width="1.6"/>
<line x1="276.25" y1="517.9" x2="276.25" y2="606.25" stroke="#000" stroke-width="1.6"/>
<line x1="274" y1="605.5" x2="378.5" y2="605.5" stroke="#000" stroke-width="1.6"/>
<line x1="273.75" y1="605.5" x2="276.25" y2="605.5" stroke="#000" stroke-width="1.3"/>
<text x="272.7" y="608.8" font-size="8.4" text-anchor="end" textLength="9.8" lengthAdjust="spacingAndGlyphs" >0.0</text>
<line x1="273.75" y1="576.5" x2="276.25" y2="576.5" stroke="#000" stroke-width="1.3"/>
<text x="272.7" y="579.8" font-size="8.4" text-anchor="end" textLength="9.8" lengthAdjust="spacingAndGlyphs" >0.1</text>
<line x1="273.75" y1="547.5" x2="276.25" y2="547.5" stroke="#000" stroke-width="1.3"/>
<text x="272.7" y="550.8" font-size="8.4" text-anchor="end" textLength="9.8" lengthAdjust="spacingAndGlyphs" >0.2</text>
<line x1="273.75" y1="518.5" x2="276.25" y2="518.5" stroke="#000" stroke-width="1.3"/>
<text x="272.7" y="521.8" font-size="8.4" text-anchor="end" textLength="9.8" lengthAdjust="spacingAndGlyphs" >0.3</text>
<line x1="287" y1="605.5" x2="287" y2="609" stroke="#000" stroke-width="1.3"/>
<text transform="translate(290.75,611) rotate(-90)" x="0" y="0" font-size="9.8" text-anchor="end" textLength="28" lengthAdjust="spacingAndGlyphs" >G-CSF</text>
<line x1="307.1" y1="605.5" x2="307.1" y2="609" stroke="#000" stroke-width="1.3"/>
<text transform="translate(310.85,611) rotate(-90)" x="0" y="0" font-size="9.8" text-anchor="end" textLength="18.5" lengthAdjust="spacingAndGlyphs" >PTH</text>
<line x1="327.2" y1="605.5" x2="327.2" y2="609" stroke="#000" stroke-width="1.3"/>
<text transform="translate(330.95,611) rotate(-90)" x="0" y="0" font-size="9.8" text-anchor="end" textLength="13" lengthAdjust="spacingAndGlyphs" >GH</text>
<line x1="347.3" y1="605.5" x2="347.3" y2="609" stroke="#000" stroke-width="1.3"/>
<text transform="translate(351.05,611) rotate(-90)" x="0" y="0" font-size="9.8" text-anchor="end" textLength="17.5" lengthAdjust="spacingAndGlyphs" >SCF</text>
<line x1="367.4" y1="605.5" x2="367.4" y2="609" stroke="#000" stroke-width="1.3"/>
<text transform="translate(371.15,611) rotate(-90)" x="0" y="0" font-size="9.8" text-anchor="end" textLength="24" lengthAdjust="spacingAndGlyphs" >saline</text>
<text x="292" y="500.6" font-size="10.2" textLength="66" lengthAdjust="spacingAndGlyphs" >Monocytes-4w</text>
<text transform="translate(259.5,561) rotate(-90)" x="0" y="0" font-size="7" text-anchor="middle" textLength="98" lengthAdjust="spacingAndGlyphs">number of Monocytes (x 10<tspan font-size="5.04" dy="-4.6">3</tspan><tspan dy="4.6">/µL)</tspan></text>
<line x1="421.4" y1="523.73" x2="421.4" y2="525.43" stroke="#000" stroke-width="1.5"/>
<line x1="417.4" y1="523.73" x2="425.4" y2="523.73" stroke="#000" stroke-width="1.5"/>
<rect x="415.2" y="526.23" width="12.4" height="79.57" fill="#fff" stroke="#000" stroke-width="1.6"/>
<line x1="441.4" y1="526.41" x2="441.4" y2="526.32" stroke="#000" stroke-width="1.5"/>
<line x1="437.4" y1="526.41" x2="445.4" y2="526.41" stroke="#000" stroke-width="1.5"/>
<rect x="435.2" y="527.12" width="12.4" height="78.68" fill="#fff" stroke="#000" stroke-width="1.6"/>
<line x1="461.4" y1="523.47" x2="461.4" y2="526.95" stroke="#000" stroke-width="1.5"/>
<line x1="457.4" y1="523.47" x2="465.4" y2="523.47" stroke="#000" stroke-width="1.5"/>
<rect x="455.2" y="527.75" width="12.4" height="78.05" fill="#fff" stroke="#000" stroke-width="1.6"/>
<line x1="481.4" y1="530.34" x2="481.4" y2="535.07" stroke="#000" stroke-width="1.5"/>
<line x1="477.4" y1="530.34" x2="485.4" y2="530.34" stroke="#000" stroke-width="1.5"/>
<rect x="475.2" y="535.87" width="12.4" height="69.93" fill="#fff" stroke="#000" stroke-width="1.6"/>
<line x1="501.4" y1="527.22" x2="501.4" y2="531.86" stroke="#000" stroke-width="1.5"/>
<line x1="497.4" y1="527.22" x2="505.4" y2="527.22" stroke="#000" stroke-width="1.5"/>
<rect x="495.2" y="532.66" width="12.4" height="73.14" fill="#fff" stroke="#000" stroke-width="1.6"/>
<line x1="411" y1="515.9" x2="411" y2="606.55" stroke="#000" stroke-width="1.6"/>
<line x1="408.5" y1="605.8" x2="512" y2="605.8" stroke="#000" stroke-width="1.6"/>
<line x1="408.5" y1="605.8" x2="411" y2="605.8" stroke="#000" stroke-width="1.3"/>
<text x="407.4" y="609.1" font-size="8.4" text-anchor="end" textLength="3.7" lengthAdjust="spacingAndGlyphs" >0</text>
<line x1="408.5" y1="583.47" x2="411" y2="583.47" stroke="#000" stroke-width="1.3"/>
<text x="407.4" y="586.77" font-size="8.4" text-anchor="end" textLength="7.4" lengthAdjust="spacingAndGlyphs" >25</text>
<line x1="408.5" y1="561.15" x2="411" y2="561.15" stroke="#000" stroke-width="1.3"/>
<text x="407.4" y="564.45" font-size="8.4" text-anchor="end" textLength="7.4" lengthAdjust="spacingAndGlyphs" >50</text>
<line x1="408.5" y1="538.83" x2="411" y2="538.83" stroke="#000" stroke-width="1.3"/>
<text x="407.4" y="542.12" font-size="8.4" text-anchor="end" textLength="7.4" lengthAdjust="spacingAndGlyphs" >75</text>
<line x1="408.5" y1="516.5" x2="411" y2="516.5" stroke="#000" stroke-width="1.3"/>
<text x="407.4" y="519.8" font-size="8.4" text-anchor="end" textLength="10.8" lengthAdjust="spacingAndGlyphs" >100</text>
<line x1="421.4" y1="605.8" x2="421.4" y2="609.3" stroke="#000" stroke-width="1.3"/>
<text transform="translate(425.15,611.3) rotate(-90)" x="0" y="0" font-size="9.8" text-anchor="end" textLength="28" lengthAdjust="spacingAndGlyphs" >G-CSF</text>
<line x1="441.4" y1="605.8" x2="441.4" y2="609.3" stroke="#000" stroke-width="1.3"/>
<text transform="translate(445.15,611.3) rotate(-90)" x="0" y="0" font-size="9.8" text-anchor="end" textLength="18.5" lengthAdjust="spacingAndGlyphs" >PTH</text>
<line x1="461.4" y1="605.8" x2="461.4" y2="609.3" stroke="#000" stroke-width="1.3"/>
<text transform="translate(465.15,611.3) rotate(-90)" x="0" y="0" font-size="9.8" text-anchor="end" textLength="13" lengthAdjust="spacingAndGlyphs" >GH</text>
<line x1="481.4" y1="605.8" x2="481.4" y2="609.3" stroke="#000" stroke-width="1.3"/>
<text transform="translate(485.15,611.3) rotate(-90)" x="0" y="0" font-size="9.8" text-anchor="end" textLength="17.5" lengthAdjust="spacingAndGlyphs" >SCF</text>
<line x1="501.4" y1="605.8" x2="501.4" y2="609.3" stroke="#000" stroke-width="1.3"/>
<text transform="translate(505.15,611.3) rotate(-90)" x="0" y="0" font-size="9.8" text-anchor="end" textLength="24" lengthAdjust="spacingAndGlyphs" >saline</text>
<text x="441.8" y="500.8" font-size="10.2" textLength="39.4" lengthAdjust="spacingAndGlyphs" >BMC-4w</text>
<text transform="translate(396.8,562.5) rotate(-90)" x="0" y="0" font-size="9.8" text-anchor="middle" textLength="72.5" lengthAdjust="spacingAndGlyphs">GFP (+) cells (%)</text>
</svg>
</body></html>
